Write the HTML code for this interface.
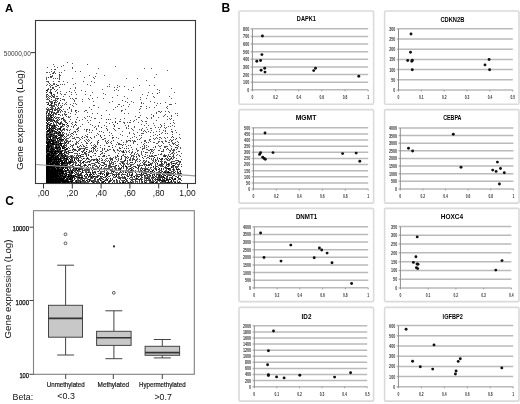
<!DOCTYPE html>
<html><head><meta charset="utf-8"><style>
html,body{margin:0;padding:0;background:#fff;width:520px;height:404px;overflow:hidden}
svg{display:block;font-family:"Liberation Sans",sans-serif;will-change:transform}
</style></head><body>
<svg width="520" height="404" viewBox="0 0 520 404">
<text x="5" y="12" font-size="11.5" font-weight="bold">A</text><text x="221.6" y="12" font-size="12" font-weight="bold">B</text><text x="5.2" y="205" font-size="12" font-weight="bold">C</text><path fill="#555555" d="M67 62h1v1h-1zM72 63h1v1h-1zM53 64h1v1h-1zM87 64h1v1h-1zM63 65h1v1h-1zM54 66h1v1h-1zM61 66h1v1h-1zM115 66h1v1h-1zM47 67h1v1h-1zM57 67h1v1h-1zM72 67h1v1h-1zM72 68h1v1h-1zM98 68h1v1h-1zM144 68h1v1h-1zM151 68h1v1h-1zM51 69h1v1h-1zM54 69h1v1h-1zM64 70h1v1h-1zM167 70h1v1h-1zM51 71h1v1h-1zM54 71h1v1h-1zM75 71h1v1h-1zM80 71h1v1h-1zM46 72h2v1h-2zM49 72h1v1h-1zM53 72h2v1h-2zM59 72h1v1h-1zM61 72h1v1h-1zM52 73h1v1h-1zM55 73h1v1h-1zM96 73h1v1h-1zM50 74h1v1h-1zM156 74h1v1h-1zM52 75h1v1h-1zM59 75h2v1h-2zM89 75h1v1h-1zM104 75h1v1h-1zM51 76h2v1h-2zM59 76h1v1h-1zM95 76h1v1h-1zM46 77h1v1h-1zM50 77h2v1h-2zM59 77h1v1h-1zM84 77h1v1h-1zM93 77h1v1h-1zM154 77h1v1h-1zM46 78h1v1h-1zM53 78h1v1h-1zM55 78h1v1h-1zM57 78h1v1h-1zM59 78h1v1h-1zM72 78h1v1h-1zM94 78h1v1h-1zM126 78h1v1h-1zM137 78h1v1h-1zM46 79h1v1h-1zM59 79h1v1h-1zM146 80h1v1h-1zM46 81h3v1h-3zM53 81h1v1h-1zM58 81h2v1h-2zM63 81h1v1h-1zM83 81h1v1h-1zM91 81h1v1h-1zM48 82h1v1h-1zM67 82h1v1h-1zM94 82h1v1h-1zM49 83h1v1h-1zM53 83h2v1h-2zM75 83h1v1h-1zM47 84h1v1h-1zM50 84h1v1h-1zM53 84h2v1h-2zM60 84h1v1h-1zM62 84h1v1h-1zM64 84h1v1h-1zM73 84h1v1h-1zM87 84h1v1h-1zM109 84h1v1h-1zM46 85h1v1h-1zM49 85h1v1h-1zM51 85h2v1h-2zM90 85h1v1h-1zM117 85h1v1h-1zM139 85h1v1h-1zM149 85h1v1h-1zM154 85h1v1h-1zM50 86h1v1h-1zM55 86h2v1h-2zM107 86h1v1h-1zM109 86h1v1h-1zM119 86h1v1h-1zM124 86h1v1h-1zM50 87h1v1h-1zM53 87h1v1h-1zM59 87h1v1h-1zM75 87h1v1h-1zM114 87h1v1h-1zM117 87h1v1h-1zM133 87h1v1h-1zM48 88h1v1h-1zM52 88h2v1h-2zM70 88h1v1h-1zM75 88h1v1h-1zM171 88h1v1h-1zM47 89h1v1h-1zM50 89h2v1h-2zM54 89h1v1h-1zM57 89h1v1h-1zM102 89h1v1h-1zM116 89h1v1h-1zM128 89h1v1h-1zM157 89h1v1h-1zM50 90h1v1h-1zM56 90h1v1h-1zM74 90h1v1h-1zM81 90h1v1h-1zM114 90h1v1h-1zM118 90h1v1h-1zM131 90h1v1h-1zM159 90h1v1h-1zM47 91h1v1h-1zM50 91h1v1h-1zM55 91h1v1h-1zM60 91h1v1h-1zM85 91h1v1h-1zM49 92h1v1h-1zM66 92h1v1h-1zM71 92h1v1h-1zM75 92h1v1h-1zM92 92h1v1h-1zM148 92h1v1h-1zM159 92h1v1h-1zM174 92h1v1h-1zM50 93h1v1h-1zM57 93h1v1h-1zM60 93h1v1h-1zM103 93h1v1h-1zM152 93h1v1h-1zM46 94h1v1h-1zM51 94h1v1h-1zM54 94h1v1h-1zM61 94h1v1h-1zM64 94h2v1h-2zM71 94h1v1h-1zM76 94h1v1h-1zM85 94h1v1h-1zM105 94h1v1h-1zM142 94h1v1h-1zM46 95h1v1h-1zM48 95h1v1h-1zM51 95h2v1h-2zM54 95h1v1h-1zM90 95h1v1h-1zM117 95h1v1h-1zM147 95h1v1h-1zM46 96h2v1h-2zM49 96h2v1h-2zM52 96h1v1h-1zM54 96h1v1h-1zM56 96h2v1h-2zM63 96h1v1h-1zM69 96h1v1h-1zM124 96h1v1h-1zM153 96h1v1h-1zM169 96h1v1h-1zM46 97h1v1h-1zM48 97h1v1h-1zM53 97h2v1h-2zM97 97h1v1h-1zM112 97h1v1h-1zM140 97h1v1h-1zM154 97h1v1h-1zM47 98h1v1h-1zM49 98h1v1h-1zM55 98h2v1h-2zM60 98h1v1h-1zM70 98h1v1h-1zM72 98h1v1h-1zM75 98h2v1h-2zM88 98h1v1h-1zM92 98h1v1h-1zM103 98h1v1h-1zM127 98h1v1h-1zM146 98h1v1h-1zM171 98h1v1h-1zM46 99h3v1h-3zM51 99h1v1h-1zM55 99h1v1h-1zM57 99h1v1h-1zM62 99h3v1h-3zM73 99h1v1h-1zM82 99h1v1h-1zM89 99h1v1h-1zM140 99h1v1h-1zM53 100h4v1h-4zM64 100h1v1h-1zM74 100h1v1h-1zM122 100h1v1h-1zM49 101h4v1h-4zM55 101h1v1h-1zM57 101h1v1h-1zM74 101h1v1h-1zM82 101h1v1h-1zM93 101h1v1h-1zM112 101h1v1h-1zM125 101h1v1h-1zM131 101h1v1h-1zM150 101h1v1h-1zM46 102h3v1h-3zM50 102h3v1h-3zM55 102h2v1h-2zM59 102h1v1h-1zM66 102h1v1h-1zM109 102h1v1h-1zM127 102h1v1h-1zM133 102h1v1h-1zM141 102h1v1h-1zM154 102h1v1h-1zM165 102h1v1h-1zM52 103h1v1h-1zM58 103h1v1h-1zM62 103h1v1h-1zM65 103h1v1h-1zM73 103h1v1h-1zM75 103h1v1h-1zM141 103h1v1h-1zM143 103h1v1h-1zM157 103h1v1h-1zM160 103h1v1h-1zM175 103h1v1h-1zM50 104h2v1h-2zM54 104h3v1h-3zM58 104h1v1h-1zM64 104h1v1h-1zM66 104h1v1h-1zM70 104h1v1h-1zM76 104h1v1h-1zM118 104h2v1h-2zM129 104h1v1h-1zM169 104h3v1h-3zM50 105h1v1h-1zM52 105h3v1h-3zM56 105h1v1h-1zM58 105h1v1h-1zM60 105h1v1h-1zM62 105h1v1h-1zM72 105h1v1h-1zM93 105h2v1h-2zM123 105h1v1h-1zM156 105h1v1h-1zM51 106h4v1h-4zM57 106h1v1h-1zM61 106h1v1h-1zM73 106h1v1h-1zM117 106h1v1h-1zM121 106h1v1h-1zM128 106h1v1h-1zM140 106h2v1h-2zM146 106h1v1h-1zM167 106h1v1h-1zM47 107h1v1h-1zM50 107h3v1h-3zM55 107h1v1h-1zM60 107h2v1h-2zM89 107h1v1h-1zM98 107h1v1h-1zM115 107h1v1h-1zM149 107h1v1h-1zM154 107h1v1h-1zM166 107h1v1h-1zM46 108h1v1h-1zM48 108h1v1h-1zM51 108h3v1h-3zM57 108h1v1h-1zM59 108h1v1h-1zM69 108h1v1h-1zM140 108h1v1h-1zM146 108h1v1h-1zM167 108h1v1h-1zM46 109h1v1h-1zM48 109h2v1h-2zM54 109h2v1h-2zM57 109h1v1h-1zM59 109h2v1h-2zM63 109h1v1h-1zM67 109h1v1h-1zM71 109h1v1h-1zM91 109h1v1h-1zM113 109h1v1h-1zM125 109h1v1h-1zM139 109h1v1h-1zM48 110h2v1h-2zM57 110h3v1h-3zM71 110h1v1h-1zM76 110h1v1h-1zM85 110h2v1h-2zM106 110h1v1h-1zM121 110h2v1h-2zM46 111h1v1h-1zM50 111h3v1h-3zM57 111h1v1h-1zM60 111h1v1h-1zM62 111h1v1h-1zM64 111h2v1h-2zM71 111h1v1h-1zM75 111h1v1h-1zM78 111h1v1h-1zM84 111h1v1h-1zM121 111h1v1h-1zM158 111h2v1h-2zM161 111h1v1h-1zM165 111h1v1h-1zM168 111h1v1h-1zM46 112h2v1h-2zM49 112h1v1h-1zM52 112h2v1h-2zM56 112h1v1h-1zM58 112h1v1h-1zM60 112h1v1h-1zM65 112h1v1h-1zM68 112h1v1h-1zM76 112h1v1h-1zM87 112h1v1h-1zM139 112h1v1h-1zM156 112h1v1h-1zM160 112h1v1h-1zM169 112h1v1h-1zM49 113h1v1h-1zM53 113h2v1h-2zM56 113h1v1h-1zM64 113h1v1h-1zM70 113h1v1h-1zM92 113h1v1h-1zM97 113h1v1h-1zM124 113h1v1h-1zM128 113h1v1h-1zM156 113h1v1h-1zM175 113h1v1h-1zM177 113h1v1h-1zM46 114h1v1h-1zM48 114h2v1h-2zM52 114h1v1h-1zM55 114h2v1h-2zM59 114h1v1h-1zM62 114h1v1h-1zM64 114h2v1h-2zM75 114h1v1h-1zM109 114h1v1h-1zM151 114h1v1h-1zM165 114h1v1h-1zM46 115h2v1h-2zM49 115h2v1h-2zM52 115h2v1h-2zM60 115h1v1h-1zM62 115h1v1h-1zM65 115h1v1h-1zM140 115h1v1h-1zM164 115h1v1h-1zM171 115h1v1h-1zM177 115h1v1h-1zM51 116h1v1h-1zM53 116h1v1h-1zM55 116h1v1h-1zM66 116h1v1h-1zM68 116h1v1h-1zM70 116h1v1h-1zM87 116h1v1h-1zM89 116h1v1h-1zM135 116h1v1h-1zM153 116h1v1h-1zM163 116h1v1h-1zM167 116h1v1h-1zM171 116h1v1h-1zM48 117h3v1h-3zM56 117h4v1h-4zM63 117h1v1h-1zM68 117h2v1h-2zM84 117h1v1h-1zM91 117h1v1h-1zM138 117h2v1h-2zM146 117h1v1h-1zM151 117h1v1h-1zM158 117h1v1h-1zM47 118h1v1h-1zM50 118h2v1h-2zM53 118h1v1h-1zM55 118h2v1h-2zM58 118h1v1h-1zM61 118h1v1h-1zM63 118h1v1h-1zM85 118h1v1h-1zM94 118h2v1h-2zM101 118h1v1h-1zM115 118h1v1h-1zM124 118h1v1h-1zM147 118h1v1h-1zM151 118h1v1h-1zM169 118h1v1h-1zM171 118h1v1h-1zM47 119h1v1h-1zM52 119h2v1h-2zM61 119h1v1h-1zM64 119h1v1h-1zM70 119h1v1h-1zM76 119h1v1h-1zM82 119h1v1h-1zM106 119h1v1h-1zM110 119h1v1h-1zM120 119h1v1h-1zM136 119h1v1h-1zM167 119h1v1h-1zM170 119h1v1h-1zM50 120h1v1h-1zM52 120h1v1h-1zM57 120h2v1h-2zM63 120h3v1h-3zM79 120h1v1h-1zM87 120h1v1h-1zM90 120h1v1h-1zM130 120h1v1h-1zM134 120h1v1h-1zM141 120h1v1h-1zM156 120h1v1h-1zM173 120h1v1h-1zM51 121h1v1h-1zM55 121h3v1h-3zM61 121h1v1h-1zM64 121h2v1h-2zM69 121h1v1h-1zM75 121h1v1h-1zM115 121h1v1h-1zM119 121h2v1h-2zM133 121h1v1h-1zM142 121h1v1h-1zM145 121h2v1h-2zM48 122h2v1h-2zM53 122h1v1h-1zM55 122h2v1h-2zM58 122h1v1h-1zM61 122h1v1h-1zM65 122h1v1h-1zM72 122h1v1h-1zM75 122h2v1h-2zM88 122h1v1h-1zM106 122h1v1h-1zM112 122h1v1h-1zM123 122h2v1h-2zM127 122h1v1h-1zM129 122h2v1h-2zM138 122h1v1h-1zM173 122h1v1h-1zM46 123h1v1h-1zM48 123h1v1h-1zM50 123h1v1h-1zM56 123h1v1h-1zM59 123h1v1h-1zM61 123h2v1h-2zM71 123h1v1h-1zM109 123h1v1h-1zM124 123h1v1h-1zM146 123h1v1h-1zM153 123h1v1h-1zM164 123h1v1h-1zM170 123h1v1h-1zM174 123h1v1h-1zM53 124h1v1h-1zM56 124h1v1h-1zM60 124h1v1h-1zM62 124h1v1h-1zM66 124h1v1h-1zM72 124h1v1h-1zM82 124h1v1h-1zM90 124h1v1h-1zM113 124h1v1h-1zM141 124h1v1h-1zM160 124h1v1h-1zM55 125h2v1h-2zM64 125h1v1h-1zM68 125h1v1h-1zM74 125h1v1h-1zM76 125h1v1h-1zM92 125h1v1h-1zM98 125h1v1h-1zM104 125h1v1h-1zM114 125h1v1h-1zM125 125h1v1h-1zM128 125h1v1h-1zM144 125h1v1h-1zM148 125h1v1h-1zM154 125h1v1h-1zM161 125h1v1h-1zM164 125h1v1h-1zM172 125h1v1h-1zM46 126h4v1h-4zM51 126h1v1h-1zM53 126h1v1h-1zM60 126h1v1h-1zM62 126h2v1h-2zM66 126h1v1h-1zM68 126h1v1h-1zM71 126h1v1h-1zM73 126h1v1h-1zM80 126h1v1h-1zM95 126h1v1h-1zM98 126h1v1h-1zM106 126h1v1h-1zM128 126h1v1h-1zM134 126h1v1h-1zM161 126h1v1h-1zM168 126h1v1h-1zM170 126h1v1h-1zM174 126h1v1h-1zM46 127h1v1h-1zM52 127h1v1h-1zM54 127h3v1h-3zM67 127h1v1h-1zM73 127h1v1h-1zM78 127h1v1h-1zM94 127h1v1h-1zM126 127h1v1h-1zM134 127h1v1h-1zM146 127h1v1h-1zM155 127h1v1h-1zM158 127h1v1h-1zM160 127h1v1h-1zM164 127h1v1h-1zM166 127h1v1h-1zM46 128h1v1h-1zM48 128h1v1h-1zM51 128h1v1h-1zM55 128h1v1h-1zM57 128h2v1h-2zM63 128h2v1h-2zM77 128h2v1h-2zM96 128h1v1h-1zM113 128h1v1h-1zM118 128h2v1h-2zM126 128h1v1h-1zM128 128h1v1h-1zM131 128h1v1h-1zM142 128h1v1h-1zM150 128h2v1h-2zM165 128h1v1h-1zM48 129h1v1h-1zM50 129h1v1h-1zM52 129h2v1h-2zM56 129h3v1h-3zM62 129h1v1h-1zM64 129h1v1h-1zM67 129h1v1h-1zM70 129h1v1h-1zM76 129h2v1h-2zM84 129h1v1h-1zM86 129h2v1h-2zM89 129h1v1h-1zM96 129h1v1h-1zM107 129h1v1h-1zM114 129h1v1h-1zM132 129h1v1h-1zM139 129h1v1h-1zM141 129h1v1h-1zM147 129h1v1h-1zM159 129h1v1h-1zM171 129h1v1h-1zM50 130h1v1h-1zM54 130h1v1h-1zM60 130h3v1h-3zM64 130h1v1h-1zM67 130h1v1h-1zM78 130h1v1h-1zM86 130h1v1h-1zM89 130h1v1h-1zM92 130h1v1h-1zM107 130h1v1h-1zM115 130h1v1h-1zM133 130h1v1h-1zM141 130h1v1h-1zM144 130h1v1h-1zM151 130h1v1h-1zM163 130h1v1h-1zM165 130h1v1h-1zM175 130h1v1h-1zM49 131h1v1h-1zM53 131h1v1h-1zM58 131h1v1h-1zM74 131h2v1h-2zM77 131h1v1h-1zM86 131h1v1h-1zM99 131h1v1h-1zM101 131h1v1h-1zM122 131h1v1h-1zM143 131h1v1h-1zM145 131h1v1h-1zM148 131h1v1h-1zM156 131h1v1h-1zM159 131h1v1h-1zM165 131h1v1h-1zM171 131h2v1h-2zM46 132h2v1h-2zM51 132h2v1h-2zM54 132h2v1h-2zM58 132h1v1h-1zM63 132h1v1h-1zM69 132h1v1h-1zM73 132h1v1h-1zM75 132h1v1h-1zM89 132h1v1h-1zM91 132h1v1h-1zM103 132h1v1h-1zM109 132h1v1h-1zM129 132h1v1h-1zM137 132h1v1h-1zM146 132h1v1h-1zM150 132h1v1h-1zM153 132h1v1h-1zM162 132h1v1h-1zM172 132h1v1h-1zM176 132h1v1h-1zM46 133h2v1h-2zM50 133h4v1h-4zM55 133h1v1h-1zM57 133h1v1h-1zM59 133h1v1h-1zM62 133h1v1h-1zM64 133h1v1h-1zM66 133h1v1h-1zM71 133h1v1h-1zM97 133h1v1h-1zM111 133h1v1h-1zM129 133h1v1h-1zM133 133h1v1h-1zM141 133h3v1h-3zM161 133h1v1h-1zM165 133h1v1h-1zM167 133h1v1h-1zM49 134h1v1h-1zM53 134h2v1h-2zM57 134h3v1h-3zM61 134h2v1h-2zM66 134h1v1h-1zM68 134h1v1h-1zM70 134h1v1h-1zM73 134h1v1h-1zM87 134h1v1h-1zM98 134h1v1h-1zM120 134h1v1h-1zM134 134h1v1h-1zM155 134h1v1h-1zM172 134h1v1h-1zM179 134h1v1h-1zM47 135h2v1h-2zM52 135h1v1h-1zM55 135h1v1h-1zM67 135h2v1h-2zM71 135h1v1h-1zM85 135h1v1h-1zM96 135h1v1h-1zM104 135h1v1h-1zM109 135h1v1h-1zM112 135h1v1h-1zM122 135h1v1h-1zM139 135h1v1h-1zM141 135h1v1h-1zM153 135h1v1h-1zM157 135h1v1h-1zM47 136h1v1h-1zM53 136h2v1h-2zM57 136h1v1h-1zM61 136h1v1h-1zM70 136h1v1h-1zM72 136h1v1h-1zM86 136h2v1h-2zM94 136h1v1h-1zM100 136h1v1h-1zM127 136h1v1h-1zM134 136h1v1h-1zM150 136h1v1h-1zM48 137h1v1h-1zM52 137h1v1h-1zM58 137h1v1h-1zM61 137h1v1h-1zM63 137h1v1h-1zM65 137h1v1h-1zM69 137h1v1h-1zM74 137h1v1h-1zM76 137h3v1h-3zM81 137h1v1h-1zM87 137h1v1h-1zM94 137h1v1h-1zM112 137h1v1h-1zM116 137h1v1h-1zM132 137h1v1h-1zM136 137h1v1h-1zM141 137h1v1h-1zM156 137h1v1h-1zM159 137h2v1h-2zM164 137h1v1h-1zM167 137h1v1h-1zM171 137h1v1h-1zM173 137h1v1h-1zM179 137h1v1h-1zM46 138h1v1h-1zM48 138h1v1h-1zM54 138h2v1h-2zM59 138h3v1h-3zM66 138h3v1h-3zM72 138h3v1h-3zM79 138h1v1h-1zM82 138h1v1h-1zM91 138h1v1h-1zM104 138h2v1h-2zM112 138h1v1h-1zM118 138h1v1h-1zM130 138h1v1h-1zM140 138h1v1h-1zM153 138h1v1h-1zM155 138h1v1h-1zM157 138h1v1h-1zM161 138h1v1h-1zM165 138h1v1h-1zM180 138h1v1h-1zM52 139h1v1h-1zM54 139h1v1h-1zM65 139h2v1h-2zM75 139h1v1h-1zM80 139h1v1h-1zM86 139h1v1h-1zM88 139h1v1h-1zM102 139h2v1h-2zM137 139h1v1h-1zM139 139h1v1h-1zM149 139h2v1h-2zM154 139h1v1h-1zM159 139h1v1h-1zM170 139h1v1h-1zM173 139h1v1h-1zM175 139h1v1h-1zM46 140h1v1h-1zM48 140h1v1h-1zM50 140h1v1h-1zM59 140h2v1h-2zM62 140h2v1h-2zM65 140h3v1h-3zM70 140h1v1h-1zM79 140h1v1h-1zM84 140h1v1h-1zM87 140h1v1h-1zM89 140h1v1h-1zM105 140h1v1h-1zM108 140h1v1h-1zM121 140h1v1h-1zM126 140h1v1h-1zM128 140h3v1h-3zM132 140h1v1h-1zM134 140h1v1h-1zM144 140h2v1h-2zM149 140h1v1h-1zM165 140h1v1h-1zM169 140h1v1h-1zM171 140h2v1h-2zM47 141h1v1h-1zM54 141h2v1h-2zM57 141h1v1h-1zM59 141h4v1h-4zM67 141h4v1h-4zM72 141h1v1h-1zM76 141h1v1h-1zM78 141h1v1h-1zM85 141h1v1h-1zM88 141h1v1h-1zM97 141h1v1h-1zM105 141h1v1h-1zM107 141h1v1h-1zM111 141h1v1h-1zM126 141h2v1h-2zM130 141h1v1h-1zM133 141h2v1h-2zM144 141h2v1h-2zM150 141h1v1h-1zM158 141h2v1h-2zM161 141h2v1h-2zM165 141h2v1h-2zM171 141h1v1h-1zM177 141h1v1h-1zM57 142h1v1h-1zM64 142h1v1h-1zM76 142h2v1h-2zM81 142h1v1h-1zM86 142h1v1h-1zM97 142h2v1h-2zM106 142h1v1h-1zM108 142h1v1h-1zM110 142h1v1h-1zM117 142h1v1h-1zM123 142h1v1h-1zM126 142h1v1h-1zM133 142h1v1h-1zM141 142h1v1h-1zM146 142h1v1h-1zM148 142h1v1h-1zM153 142h2v1h-2zM158 142h1v1h-1zM162 142h1v1h-1zM168 142h2v1h-2zM172 142h1v1h-1zM175 142h1v1h-1zM178 142h1v1h-1zM55 143h1v1h-1zM57 143h2v1h-2zM63 143h2v1h-2zM67 143h2v1h-2zM75 143h2v1h-2zM78 143h1v1h-1zM86 143h1v1h-1zM90 143h1v1h-1zM97 143h1v1h-1zM106 143h2v1h-2zM118 143h2v1h-2zM133 143h1v1h-1zM144 143h1v1h-1zM156 143h2v1h-2zM163 143h1v1h-1zM172 143h3v1h-3zM59 144h1v1h-1zM66 144h1v1h-1zM70 144h1v1h-1zM73 144h1v1h-1zM75 144h2v1h-2zM82 144h1v1h-1zM94 144h1v1h-1zM97 144h1v1h-1zM116 144h1v1h-1zM118 144h4v1h-4zM123 144h1v1h-1zM125 144h1v1h-1zM137 144h1v1h-1zM143 144h1v1h-1zM169 144h1v1h-1zM173 144h1v1h-1zM175 144h1v1h-1zM178 144h1v1h-1zM53 145h1v1h-1zM57 145h1v1h-1zM59 145h1v1h-1zM64 145h1v1h-1zM66 145h1v1h-1zM71 145h3v1h-3zM83 145h1v1h-1zM86 145h1v1h-1zM91 145h1v1h-1zM93 145h1v1h-1zM95 145h1v1h-1zM100 145h1v1h-1zM104 145h1v1h-1zM112 145h1v1h-1zM128 145h1v1h-1zM130 145h1v1h-1zM144 145h1v1h-1zM146 145h1v1h-1zM158 145h1v1h-1zM161 145h1v1h-1zM170 145h1v1h-1zM176 145h1v1h-1zM57 146h2v1h-2zM64 146h1v1h-1zM66 146h1v1h-1zM72 146h1v1h-1zM79 146h1v1h-1zM81 146h1v1h-1zM83 146h2v1h-2zM94 146h3v1h-3zM108 146h1v1h-1zM115 146h1v1h-1zM126 146h1v1h-1zM142 146h1v1h-1zM144 146h1v1h-1zM148 146h1v1h-1zM159 146h2v1h-2zM164 146h4v1h-4zM171 146h1v1h-1zM178 146h1v1h-1zM50 147h1v1h-1zM54 147h1v1h-1zM63 147h1v1h-1zM72 147h1v1h-1zM77 147h2v1h-2zM85 147h3v1h-3zM92 147h1v1h-1zM95 147h1v1h-1zM100 147h1v1h-1zM119 147h1v1h-1zM122 147h1v1h-1zM131 147h1v1h-1zM140 147h1v1h-1zM144 147h1v1h-1zM146 147h1v1h-1zM153 147h1v1h-1zM155 147h1v1h-1zM164 147h2v1h-2zM176 147h2v1h-2zM180 147h1v1h-1zM49 148h1v1h-1zM54 148h1v1h-1zM59 148h1v1h-1zM64 148h1v1h-1zM69 148h1v1h-1zM73 148h1v1h-1zM79 148h7v1h-7zM93 148h1v1h-1zM97 148h1v1h-1zM102 148h1v1h-1zM119 148h1v1h-1zM124 148h1v1h-1zM128 148h1v1h-1zM136 148h1v1h-1zM142 148h3v1h-3zM160 148h1v1h-1zM171 148h1v1h-1zM177 148h1v1h-1zM180 148h1v1h-1zM49 149h1v1h-1zM56 149h1v1h-1zM58 149h1v1h-1zM64 149h1v1h-1zM67 149h1v1h-1zM72 149h1v1h-1zM78 149h3v1h-3zM87 149h1v1h-1zM93 149h1v1h-1zM95 149h1v1h-1zM102 149h1v1h-1zM104 149h1v1h-1zM107 149h1v1h-1zM109 149h2v1h-2zM117 149h1v1h-1zM132 149h1v1h-1zM136 149h1v1h-1zM142 149h1v1h-1zM146 149h2v1h-2zM151 149h2v1h-2zM154 149h1v1h-1zM166 149h1v1h-1zM168 149h1v1h-1zM171 149h1v1h-1zM173 149h2v1h-2zM176 149h1v1h-1zM49 150h1v1h-1zM54 150h1v1h-1zM56 150h1v1h-1zM60 150h2v1h-2zM63 150h2v1h-2zM68 150h3v1h-3zM72 150h1v1h-1zM74 150h3v1h-3zM78 150h2v1h-2zM84 150h1v1h-1zM89 150h1v1h-1zM91 150h1v1h-1zM93 150h1v1h-1zM95 150h1v1h-1zM97 150h1v1h-1zM102 150h1v1h-1zM107 150h2v1h-2zM113 150h2v1h-2zM117 150h2v1h-2zM120 150h1v1h-1zM123 150h1v1h-1zM125 150h1v1h-1zM129 150h1v1h-1zM137 150h2v1h-2zM148 150h2v1h-2zM151 150h1v1h-1zM153 150h1v1h-1zM158 150h2v1h-2zM163 150h1v1h-1zM169 150h2v1h-2zM172 150h3v1h-3zM62 151h1v1h-1zM64 151h4v1h-4zM73 151h1v1h-1zM81 151h3v1h-3zM89 151h2v1h-2zM93 151h1v1h-1zM96 151h1v1h-1zM100 151h2v1h-2zM105 151h2v1h-2zM114 151h1v1h-1zM119 151h1v1h-1zM121 151h2v1h-2zM126 151h1v1h-1zM128 151h1v1h-1zM132 151h1v1h-1zM137 151h1v1h-1zM141 151h1v1h-1zM143 151h1v1h-1zM151 151h2v1h-2zM162 151h2v1h-2zM170 151h1v1h-1zM173 151h1v1h-1zM178 151h2v1h-2zM47 152h2v1h-2zM53 152h1v1h-1zM56 152h2v1h-2zM59 152h1v1h-1zM65 152h1v1h-1zM68 152h1v1h-1zM70 152h1v1h-1zM85 152h1v1h-1zM88 152h2v1h-2zM92 152h1v1h-1zM102 152h1v1h-1zM115 152h1v1h-1zM122 152h1v1h-1zM124 152h1v1h-1zM126 152h1v1h-1zM129 152h1v1h-1zM131 152h2v1h-2zM135 152h1v1h-1zM141 152h1v1h-1zM146 152h2v1h-2zM150 152h1v1h-1zM153 152h1v1h-1zM169 152h1v1h-1zM172 152h2v1h-2zM176 152h1v1h-1zM46 153h1v1h-1zM50 153h1v1h-1zM62 153h1v1h-1zM64 153h1v1h-1zM66 153h3v1h-3zM74 153h4v1h-4zM84 153h1v1h-1zM86 153h1v1h-1zM94 153h1v1h-1zM101 153h2v1h-2zM104 153h1v1h-1zM118 153h1v1h-1zM131 153h1v1h-1zM134 153h1v1h-1zM137 153h1v1h-1zM141 153h1v1h-1zM150 153h1v1h-1zM152 153h1v1h-1zM161 153h1v1h-1zM171 153h2v1h-2zM174 153h1v1h-1zM181 153h1v1h-1zM56 154h1v1h-1zM60 154h1v1h-1zM65 154h1v1h-1zM68 154h1v1h-1zM77 154h1v1h-1zM81 154h2v1h-2zM85 154h2v1h-2zM123 154h1v1h-1zM125 154h1v1h-1zM130 154h1v1h-1zM134 154h1v1h-1zM136 154h1v1h-1zM138 154h1v1h-1zM141 154h1v1h-1zM145 154h1v1h-1zM158 154h1v1h-1zM161 154h1v1h-1zM164 154h1v1h-1zM168 154h1v1h-1zM170 154h1v1h-1zM173 154h1v1h-1zM177 154h1v1h-1zM56 155h1v1h-1zM59 155h2v1h-2zM64 155h1v1h-1zM66 155h2v1h-2zM70 155h3v1h-3zM74 155h1v1h-1zM76 155h4v1h-4zM93 155h1v1h-1zM95 155h1v1h-1zM103 155h1v1h-1zM108 155h2v1h-2zM122 155h2v1h-2zM131 155h3v1h-3zM138 155h2v1h-2zM142 155h1v1h-1zM147 155h1v1h-1zM149 155h1v1h-1zM151 155h2v1h-2zM154 155h1v1h-1zM156 155h1v1h-1zM163 155h1v1h-1zM165 155h2v1h-2zM168 155h1v1h-1zM176 155h1v1h-1zM179 155h1v1h-1zM49 156h1v1h-1zM54 156h1v1h-1zM58 156h3v1h-3zM63 156h1v1h-1zM67 156h4v1h-4zM72 156h2v1h-2zM76 156h1v1h-1zM80 156h2v1h-2zM83 156h1v1h-1zM86 156h1v1h-1zM91 156h1v1h-1zM98 156h2v1h-2zM102 156h3v1h-3zM106 156h1v1h-1zM115 156h1v1h-1zM117 156h2v1h-2zM124 156h2v1h-2zM127 156h1v1h-1zM133 156h2v1h-2zM144 156h2v1h-2zM149 156h5v1h-5zM163 156h1v1h-1zM167 156h1v1h-1zM170 156h1v1h-1zM172 156h2v1h-2zM180 156h1v1h-1zM61 157h2v1h-2zM66 157h1v1h-1zM68 157h1v1h-1zM70 157h1v1h-1zM72 157h5v1h-5zM80 157h1v1h-1zM87 157h1v1h-1zM91 157h1v1h-1zM110 157h1v1h-1zM113 157h1v1h-1zM115 157h2v1h-2zM121 157h1v1h-1zM125 157h1v1h-1zM130 157h1v1h-1zM133 157h1v1h-1zM136 157h1v1h-1zM147 157h2v1h-2zM157 157h1v1h-1zM167 157h1v1h-1zM171 157h1v1h-1zM173 157h2v1h-2zM63 158h1v1h-1zM75 158h3v1h-3zM81 158h1v1h-1zM84 158h1v1h-1zM86 158h1v1h-1zM88 158h1v1h-1zM96 158h1v1h-1zM99 158h1v1h-1zM101 158h1v1h-1zM106 158h2v1h-2zM109 158h4v1h-4zM115 158h1v1h-1zM118 158h1v1h-1zM125 158h1v1h-1zM127 158h1v1h-1zM130 158h1v1h-1zM132 158h2v1h-2zM137 158h1v1h-1zM143 158h1v1h-1zM146 158h1v1h-1zM151 158h1v1h-1zM153 158h1v1h-1zM157 158h1v1h-1zM161 158h1v1h-1zM165 158h2v1h-2zM170 158h1v1h-1zM173 158h1v1h-1zM176 158h1v1h-1zM61 159h1v1h-1zM65 159h1v1h-1zM68 159h1v1h-1zM71 159h2v1h-2zM82 159h1v1h-1zM86 159h1v1h-1zM88 159h2v1h-2zM91 159h3v1h-3zM95 159h2v1h-2zM99 159h1v1h-1zM102 159h1v1h-1zM105 159h1v1h-1zM111 159h1v1h-1zM116 159h1v1h-1zM118 159h1v1h-1zM120 159h2v1h-2zM129 159h2v1h-2zM132 159h2v1h-2zM136 159h2v1h-2zM139 159h1v1h-1zM151 159h1v1h-1zM153 159h1v1h-1zM157 159h1v1h-1zM162 159h1v1h-1zM164 159h1v1h-1zM166 159h1v1h-1zM170 159h1v1h-1zM172 159h1v1h-1zM181 159h1v1h-1zM57 160h1v1h-1zM59 160h1v1h-1zM64 160h1v1h-1zM70 160h2v1h-2zM77 160h1v1h-1zM79 160h3v1h-3zM85 160h1v1h-1zM90 160h2v1h-2zM94 160h1v1h-1zM96 160h3v1h-3zM101 160h2v1h-2zM104 160h1v1h-1zM106 160h1v1h-1zM108 160h1v1h-1zM110 160h1v1h-1zM112 160h1v1h-1zM118 160h1v1h-1zM129 160h2v1h-2zM135 160h2v1h-2zM140 160h1v1h-1zM143 160h2v1h-2zM146 160h1v1h-1zM152 160h2v1h-2zM155 160h2v1h-2zM158 160h1v1h-1zM161 160h1v1h-1zM167 160h3v1h-3zM175 160h2v1h-2zM178 160h1v1h-1zM68 161h1v1h-1zM72 161h2v1h-2zM87 161h1v1h-1zM90 161h1v1h-1zM105 161h1v1h-1zM107 161h1v1h-1zM111 161h1v1h-1zM114 161h2v1h-2zM117 161h1v1h-1zM120 161h5v1h-5zM127 161h1v1h-1zM135 161h1v1h-1zM137 161h1v1h-1zM143 161h1v1h-1zM145 161h2v1h-2zM148 161h1v1h-1zM153 161h1v1h-1zM161 161h2v1h-2zM164 161h2v1h-2zM171 161h4v1h-4zM179 161h1v1h-1zM51 162h1v1h-1zM65 162h1v1h-1zM73 162h4v1h-4zM79 162h2v1h-2zM85 162h3v1h-3zM95 162h1v1h-1zM97 162h2v1h-2zM101 162h1v1h-1zM103 162h2v1h-2zM109 162h1v1h-1zM111 162h3v1h-3zM121 162h1v1h-1zM123 162h1v1h-1zM127 162h1v1h-1zM131 162h1v1h-1zM142 162h1v1h-1zM145 162h1v1h-1zM149 162h1v1h-1zM152 162h1v1h-1zM154 162h1v1h-1zM156 162h1v1h-1zM165 162h1v1h-1zM170 162h1v1h-1zM176 162h2v1h-2zM179 162h2v1h-2zM49 163h1v1h-1zM59 163h2v1h-2zM73 163h1v1h-1zM75 163h2v1h-2zM80 163h2v1h-2zM83 163h1v1h-1zM91 163h4v1h-4zM99 163h1v1h-1zM103 163h1v1h-1zM109 163h3v1h-3zM113 163h1v1h-1zM115 163h1v1h-1zM119 163h2v1h-2zM123 163h2v1h-2zM126 163h2v1h-2zM129 163h1v1h-1zM134 163h1v1h-1zM140 163h1v1h-1zM143 163h2v1h-2zM151 163h2v1h-2zM155 163h1v1h-1zM162 163h1v1h-1zM164 163h1v1h-1zM166 163h1v1h-1zM169 163h1v1h-1zM171 163h2v1h-2zM174 163h2v1h-2zM179 163h1v1h-1zM54 164h1v1h-1zM63 164h4v1h-4zM73 164h1v1h-1zM75 164h1v1h-1zM84 164h1v1h-1zM88 164h1v1h-1zM90 164h1v1h-1zM94 164h2v1h-2zM100 164h1v1h-1zM104 164h1v1h-1zM106 164h1v1h-1zM109 164h2v1h-2zM112 164h2v1h-2zM120 164h1v1h-1zM123 164h2v1h-2zM127 164h2v1h-2zM130 164h4v1h-4zM137 164h1v1h-1zM139 164h1v1h-1zM143 164h1v1h-1zM145 164h1v1h-1zM151 164h1v1h-1zM155 164h1v1h-1zM157 164h1v1h-1zM159 164h1v1h-1zM162 164h2v1h-2zM166 164h1v1h-1zM169 164h1v1h-1zM171 164h1v1h-1zM175 164h1v1h-1zM177 164h3v1h-3zM181 164h1v1h-1zM67 165h1v1h-1zM70 165h3v1h-3zM76 165h1v1h-1zM78 165h1v1h-1zM83 165h1v1h-1zM86 165h1v1h-1zM88 165h1v1h-1zM90 165h1v1h-1zM92 165h3v1h-3zM96 165h1v1h-1zM99 165h1v1h-1zM101 165h1v1h-1zM106 165h1v1h-1zM108 165h1v1h-1zM110 165h1v1h-1zM115 165h1v1h-1zM118 165h1v1h-1zM125 165h1v1h-1zM130 165h2v1h-2zM138 165h4v1h-4zM144 165h1v1h-1zM147 165h1v1h-1zM155 165h1v1h-1zM158 165h1v1h-1zM160 165h1v1h-1zM162 165h1v1h-1zM168 165h2v1h-2zM178 165h1v1h-1zM59 166h1v1h-1zM62 166h1v1h-1zM64 166h1v1h-1zM70 166h1v1h-1zM80 166h3v1h-3zM84 166h1v1h-1zM92 166h1v1h-1zM95 166h3v1h-3zM106 166h1v1h-1zM108 166h3v1h-3zM112 166h1v1h-1zM114 166h2v1h-2zM118 166h1v1h-1zM128 166h2v1h-2zM133 166h2v1h-2zM138 166h2v1h-2zM145 166h1v1h-1zM155 166h1v1h-1zM157 166h1v1h-1zM160 166h4v1h-4zM165 166h1v1h-1zM167 166h1v1h-1zM172 166h1v1h-1zM176 166h3v1h-3zM55 167h1v1h-1zM60 167h1v1h-1zM64 167h1v1h-1zM68 167h1v1h-1zM71 167h2v1h-2zM75 167h1v1h-1zM77 167h2v1h-2zM80 167h1v1h-1zM86 167h1v1h-1zM90 167h1v1h-1zM92 167h2v1h-2zM97 167h1v1h-1zM104 167h1v1h-1zM108 167h4v1h-4zM114 167h2v1h-2zM119 167h1v1h-1zM123 167h1v1h-1zM127 167h1v1h-1zM131 167h2v1h-2zM135 167h1v1h-1zM145 167h1v1h-1zM148 167h1v1h-1zM150 167h2v1h-2zM153 167h1v1h-1zM158 167h1v1h-1zM164 167h1v1h-1zM172 167h2v1h-2zM175 167h3v1h-3zM56 168h1v1h-1zM59 168h1v1h-1zM66 168h1v1h-1zM69 168h2v1h-2zM74 168h1v1h-1zM78 168h1v1h-1zM83 168h1v1h-1zM86 168h1v1h-1zM91 168h1v1h-1zM93 168h1v1h-1zM97 168h2v1h-2zM101 168h1v1h-1zM103 168h7v1h-7zM112 168h1v1h-1zM114 168h3v1h-3zM119 168h1v1h-1zM121 168h1v1h-1zM123 168h1v1h-1zM126 168h2v1h-2zM129 168h1v1h-1zM131 168h1v1h-1zM137 168h2v1h-2zM140 168h8v1h-8zM150 168h1v1h-1zM154 168h1v1h-1zM156 168h1v1h-1zM163 168h1v1h-1zM165 168h2v1h-2zM170 168h1v1h-1zM178 168h1v1h-1zM73 169h3v1h-3zM81 169h1v1h-1zM84 169h4v1h-4zM89 169h1v1h-1zM91 169h1v1h-1zM93 169h1v1h-1zM95 169h2v1h-2zM101 169h1v1h-1zM104 169h1v1h-1zM106 169h4v1h-4zM111 169h2v1h-2zM116 169h1v1h-1zM118 169h2v1h-2zM126 169h1v1h-1zM128 169h2v1h-2zM132 169h1v1h-1zM138 169h1v1h-1zM140 169h1v1h-1zM144 169h1v1h-1zM146 169h1v1h-1zM148 169h2v1h-2zM151 169h1v1h-1zM153 169h1v1h-1zM159 169h1v1h-1zM163 169h1v1h-1zM166 169h1v1h-1zM169 169h2v1h-2zM172 169h1v1h-1zM174 169h1v1h-1zM63 170h2v1h-2zM69 170h1v1h-1zM74 170h1v1h-1zM76 170h1v1h-1zM78 170h2v1h-2zM83 170h7v1h-7zM99 170h1v1h-1zM104 170h1v1h-1zM106 170h1v1h-1zM112 170h1v1h-1zM114 170h1v1h-1zM116 170h2v1h-2zM119 170h1v1h-1zM121 170h1v1h-1zM125 170h4v1h-4zM132 170h2v1h-2zM135 170h1v1h-1zM138 170h1v1h-1zM140 170h1v1h-1zM143 170h1v1h-1zM145 170h1v1h-1zM148 170h2v1h-2zM159 170h3v1h-3zM165 170h2v1h-2zM169 170h1v1h-1zM174 170h1v1h-1zM177 170h1v1h-1zM180 170h1v1h-1zM68 171h1v1h-1zM70 171h1v1h-1zM75 171h1v1h-1zM77 171h3v1h-3zM85 171h2v1h-2zM88 171h2v1h-2zM92 171h1v1h-1zM94 171h2v1h-2zM97 171h1v1h-1zM100 171h5v1h-5zM107 171h1v1h-1zM111 171h1v1h-1zM114 171h1v1h-1zM122 171h2v1h-2zM125 171h1v1h-1zM127 171h4v1h-4zM134 171h2v1h-2zM137 171h1v1h-1zM140 171h2v1h-2zM144 171h1v1h-1zM146 171h2v1h-2zM151 171h1v1h-1zM158 171h1v1h-1zM161 171h1v1h-1zM166 171h2v1h-2zM172 171h2v1h-2zM175 171h1v1h-1zM179 171h1v1h-1zM65 172h3v1h-3zM70 172h1v1h-1zM73 172h1v1h-1zM75 172h1v1h-1zM78 172h1v1h-1zM81 172h1v1h-1zM83 172h1v1h-1zM85 172h3v1h-3zM89 172h1v1h-1zM100 172h2v1h-2zM104 172h1v1h-1zM106 172h3v1h-3zM111 172h1v1h-1zM115 172h3v1h-3zM119 172h3v1h-3zM123 172h1v1h-1zM126 172h1v1h-1zM128 172h5v1h-5zM141 172h1v1h-1zM145 172h2v1h-2zM148 172h1v1h-1zM151 172h2v1h-2zM156 172h1v1h-1zM158 172h2v1h-2zM161 172h1v1h-1zM166 172h1v1h-1zM170 172h2v1h-2zM173 172h1v1h-1zM180 172h1v1h-1zM64 173h1v1h-1zM74 173h1v1h-1zM76 173h2v1h-2zM92 173h2v1h-2zM95 173h1v1h-1zM98 173h2v1h-2zM101 173h3v1h-3zM107 173h1v1h-1zM109 173h4v1h-4zM116 173h1v1h-1zM119 173h1v1h-1zM122 173h1v1h-1zM129 173h1v1h-1zM136 173h1v1h-1zM143 173h2v1h-2zM151 173h1v1h-1zM154 173h1v1h-1zM156 173h1v1h-1zM158 173h1v1h-1zM161 173h2v1h-2zM167 173h5v1h-5zM175 173h1v1h-1zM177 173h3v1h-3zM181 173h1v1h-1zM61 174h1v1h-1zM63 174h1v1h-1zM65 174h1v1h-1zM67 174h1v1h-1zM76 174h1v1h-1zM78 174h1v1h-1zM81 174h1v1h-1zM85 174h2v1h-2zM94 174h1v1h-1zM96 174h1v1h-1zM108 174h1v1h-1zM112 174h1v1h-1zM114 174h4v1h-4zM119 174h1v1h-1zM121 174h2v1h-2zM124 174h2v1h-2zM136 174h3v1h-3zM140 174h1v1h-1zM142 174h1v1h-1zM146 174h3v1h-3zM152 174h2v1h-2zM156 174h1v1h-1zM158 174h1v1h-1zM160 174h1v1h-1zM163 174h2v1h-2zM166 174h1v1h-1zM171 174h1v1h-1zM175 174h2v1h-2zM178 174h1v1h-1zM63 175h2v1h-2zM75 175h1v1h-1zM77 175h1v1h-1zM82 175h1v1h-1zM97 175h1v1h-1zM99 175h1v1h-1zM104 175h1v1h-1zM110 175h1v1h-1zM112 175h1v1h-1zM118 175h1v1h-1zM126 175h2v1h-2zM129 175h2v1h-2zM132 175h1v1h-1zM135 175h3v1h-3zM142 175h1v1h-1zM145 175h2v1h-2zM149 175h1v1h-1zM156 175h1v1h-1zM160 175h1v1h-1zM163 175h2v1h-2zM167 175h2v1h-2zM171 175h1v1h-1zM174 175h1v1h-1zM178 175h3v1h-3zM66 176h1v1h-1zM74 176h1v1h-1zM77 176h3v1h-3zM81 176h2v1h-2zM84 176h2v1h-2zM90 176h1v1h-1zM92 176h1v1h-1zM95 176h1v1h-1zM98 176h1v1h-1zM101 176h1v1h-1zM108 176h1v1h-1zM113 176h1v1h-1zM115 176h1v1h-1zM118 176h2v1h-2zM122 176h1v1h-1zM131 176h1v1h-1zM133 176h1v1h-1zM144 176h2v1h-2zM147 176h4v1h-4zM152 176h2v1h-2zM156 176h1v1h-1zM160 176h1v1h-1zM166 176h1v1h-1zM175 176h2v1h-2zM181 176h1v1h-1zM62 177h1v1h-1zM66 177h2v1h-2zM69 177h1v1h-1zM76 177h1v1h-1zM85 177h2v1h-2zM90 177h1v1h-1zM92 177h2v1h-2zM95 177h2v1h-2zM100 177h2v1h-2zM104 177h2v1h-2zM107 177h1v1h-1zM113 177h3v1h-3zM117 177h7v1h-7zM131 177h2v1h-2zM134 177h1v1h-1zM136 177h1v1h-1zM138 177h1v1h-1zM141 177h1v1h-1zM144 177h6v1h-6zM151 177h1v1h-1zM156 177h2v1h-2zM162 177h1v1h-1zM166 177h2v1h-2zM169 177h2v1h-2zM172 177h1v1h-1zM178 177h1v1h-1zM68 178h1v1h-1zM75 178h1v1h-1zM77 178h2v1h-2zM80 178h1v1h-1zM82 178h1v1h-1zM84 178h4v1h-4zM90 178h3v1h-3zM95 178h1v1h-1zM100 178h1v1h-1zM102 178h1v1h-1zM108 178h1v1h-1zM112 178h1v1h-1zM118 178h1v1h-1zM122 178h3v1h-3zM127 178h1v1h-1zM132 178h1v1h-1zM135 178h1v1h-1zM141 178h1v1h-1zM144 178h2v1h-2zM148 178h1v1h-1zM151 178h3v1h-3zM157 178h4v1h-4zM165 178h1v1h-1zM167 178h1v1h-1zM169 178h1v1h-1zM171 178h1v1h-1zM178 178h1v1h-1zM180 178h1v1h-1zM64 179h1v1h-1zM77 179h2v1h-2zM80 179h3v1h-3zM84 179h1v1h-1zM87 179h1v1h-1zM90 179h1v1h-1zM95 179h1v1h-1zM97 179h1v1h-1zM99 179h2v1h-2zM102 179h1v1h-1zM105 179h2v1h-2zM110 179h1v1h-1zM120 179h1v1h-1zM130 179h3v1h-3zM134 179h4v1h-4zM140 179h1v1h-1zM142 179h1v1h-1zM144 179h1v1h-1zM146 179h1v1h-1zM148 179h3v1h-3zM154 179h2v1h-2zM158 179h1v1h-1zM162 179h1v1h-1zM164 179h1v1h-1zM168 179h1v1h-1zM172 179h2v1h-2zM178 179h2v1h-2zM68 180h1v1h-1zM70 180h1v1h-1zM73 180h1v1h-1zM75 180h1v1h-1zM77 180h1v1h-1zM80 180h1v1h-1zM84 180h1v1h-1zM87 180h1v1h-1zM90 180h3v1h-3zM94 180h2v1h-2zM97 180h2v1h-2zM101 180h1v1h-1zM104 180h1v1h-1zM106 180h1v1h-1zM109 180h1v1h-1zM113 180h1v1h-1zM117 180h1v1h-1zM119 180h1v1h-1zM121 180h3v1h-3zM127 180h1v1h-1zM132 180h1v1h-1zM144 180h1v1h-1zM146 180h3v1h-3zM152 180h2v1h-2zM157 180h1v1h-1zM167 180h1v1h-1zM177 180h1v1h-1zM181 180h1v1h-1zM77 181h3v1h-3zM81 181h4v1h-4zM88 181h1v1h-1zM93 181h2v1h-2zM96 181h2v1h-2zM101 181h2v1h-2zM108 181h1v1h-1zM113 181h2v1h-2zM116 181h2v1h-2zM122 181h1v1h-1zM125 181h3v1h-3zM132 181h2v1h-2zM135 181h3v1h-3zM141 181h1v1h-1zM146 181h1v1h-1zM149 181h6v1h-6zM156 181h2v1h-2zM159 181h1v1h-1zM161 181h1v1h-1zM170 181h1v1h-1zM173 181h3v1h-3zM177 181h1v1h-1zM61 182h1v1h-1zM70 182h1v1h-1zM75 182h1v1h-1zM79 182h1v1h-1zM81 182h3v1h-3zM85 182h4v1h-4zM92 182h1v1h-1zM94 182h1v1h-1zM97 182h2v1h-2zM101 182h1v1h-1zM109 182h1v1h-1zM114 182h1v1h-1zM116 182h1v1h-1zM119 182h1v1h-1zM124 182h1v1h-1zM127 182h1v1h-1zM129 182h2v1h-2zM132 182h2v1h-2zM135 182h1v1h-1zM137 182h1v1h-1zM139 182h1v1h-1zM141 182h1v1h-1zM144 182h1v1h-1zM146 182h1v1h-1zM149 182h1v1h-1zM157 182h1v1h-1zM161 182h4v1h-4zM166 182h1v1h-1zM170 182h2v1h-2zM177 182h1v1h-1zM179 182h2v1h-2z"/><path fill="#2a2a2a" d="M55 69h1v1h-1zM53 73h1v1h-1zM59 74h1v1h-1zM50 76h1v1h-1zM48 77h1v1h-1zM56 84h1v1h-1zM57 85h2v1h-2zM52 87h1v1h-1zM48 89h1v1h-1zM47 90h1v1h-1zM69 91h1v1h-1zM46 92h1v1h-1zM50 92h2v1h-2zM57 92h1v1h-1zM157 93h1v1h-1zM47 94h1v1h-1zM53 94h1v1h-1zM53 96h1v1h-1zM51 97h1v1h-1zM57 98h2v1h-2zM49 100h1v1h-1zM60 100h1v1h-1zM48 103h1v1h-1zM54 103h1v1h-1zM59 103h1v1h-1zM47 104h2v1h-2zM58 107h1v1h-1zM69 107h1v1h-1zM55 108h1v1h-1zM58 108h1v1h-1zM47 109h1v1h-1zM51 109h2v1h-2zM56 109h1v1h-1zM47 110h1v1h-1zM52 110h1v1h-1zM54 110h2v1h-2zM61 110h1v1h-1zM75 110h1v1h-1zM47 111h1v1h-1zM49 111h1v1h-1zM58 111h1v1h-1zM54 112h1v1h-1zM57 112h1v1h-1zM51 113h1v1h-1zM55 113h1v1h-1zM53 114h1v1h-1zM66 114h1v1h-1zM48 115h1v1h-1zM101 115h1v1h-1zM153 115h1v1h-1zM46 116h1v1h-1zM48 116h1v1h-1zM46 117h2v1h-2zM77 117h1v1h-1zM46 118h1v1h-1zM48 118h1v1h-1zM46 119h1v1h-1zM48 119h4v1h-4zM57 119h1v1h-1zM59 119h1v1h-1zM63 119h1v1h-1zM108 119h1v1h-1zM46 120h4v1h-4zM51 120h1v1h-1zM53 120h1v1h-1zM56 120h1v1h-1zM50 121h1v1h-1zM52 121h1v1h-1zM54 121h1v1h-1zM60 122h1v1h-1zM66 122h1v1h-1zM99 122h1v1h-1zM115 122h1v1h-1zM53 123h1v1h-1zM58 123h1v1h-1zM117 123h1v1h-1zM47 124h4v1h-4zM54 124h1v1h-1zM59 124h1v1h-1zM64 124h1v1h-1zM75 124h1v1h-1zM46 125h1v1h-1zM50 125h4v1h-4zM57 125h1v1h-1zM62 125h1v1h-1zM67 125h1v1h-1zM55 126h1v1h-1zM58 126h1v1h-1zM61 126h1v1h-1zM114 126h1v1h-1zM53 127h1v1h-1zM60 127h2v1h-2zM101 127h1v1h-1zM47 128h1v1h-1zM49 128h1v1h-1zM53 128h1v1h-1zM106 128h1v1h-1zM59 129h1v1h-1zM63 129h1v1h-1zM66 129h1v1h-1zM51 130h1v1h-1zM53 130h1v1h-1zM69 130h1v1h-1zM46 131h1v1h-1zM50 131h2v1h-2zM54 131h1v1h-1zM56 131h1v1h-1zM59 131h1v1h-1zM61 131h1v1h-1zM56 132h2v1h-2zM62 132h1v1h-1zM48 133h2v1h-2zM60 133h1v1h-1zM72 133h1v1h-1zM46 134h1v1h-1zM52 134h1v1h-1zM60 134h1v1h-1zM63 134h1v1h-1zM76 134h1v1h-1zM159 134h1v1h-1zM49 135h3v1h-3zM54 135h1v1h-1zM60 135h1v1h-1zM62 135h2v1h-2zM100 135h1v1h-1zM46 136h1v1h-1zM48 136h2v1h-2zM51 136h2v1h-2zM56 136h1v1h-1zM60 136h1v1h-1zM62 136h1v1h-1zM64 136h1v1h-1zM66 136h1v1h-1zM82 136h1v1h-1zM172 136h1v1h-1zM47 137h1v1h-1zM54 137h2v1h-2zM60 137h1v1h-1zM84 137h1v1h-1zM90 137h1v1h-1zM101 137h1v1h-1zM113 137h1v1h-1zM52 138h2v1h-2zM56 138h1v1h-1zM64 138h1v1h-1zM176 138h1v1h-1zM46 139h1v1h-1zM53 139h1v1h-1zM55 139h1v1h-1zM61 139h1v1h-1zM47 140h1v1h-1zM54 140h1v1h-1zM57 140h2v1h-2zM98 140h1v1h-1zM113 140h1v1h-1zM51 141h1v1h-1zM58 141h1v1h-1zM64 141h1v1h-1zM66 141h1v1h-1zM135 141h1v1h-1zM52 142h1v1h-1zM54 142h1v1h-1zM65 142h2v1h-2zM68 142h1v1h-1zM91 142h1v1h-1zM46 143h1v1h-1zM49 143h1v1h-1zM54 143h1v1h-1zM56 143h1v1h-1zM62 143h1v1h-1zM65 143h1v1h-1zM87 143h1v1h-1zM111 143h1v1h-1zM49 144h3v1h-3zM55 144h1v1h-1zM57 144h1v1h-1zM60 144h2v1h-2zM64 144h1v1h-1zM49 145h1v1h-1zM51 145h2v1h-2zM55 145h2v1h-2zM58 145h1v1h-1zM63 145h1v1h-1zM65 145h1v1h-1zM80 145h1v1h-1zM122 145h1v1h-1zM177 145h1v1h-1zM46 146h1v1h-1zM50 146h1v1h-1zM52 146h2v1h-2zM55 146h1v1h-1zM61 146h2v1h-2zM70 146h1v1h-1zM77 146h1v1h-1zM109 146h1v1h-1zM155 146h1v1h-1zM52 147h2v1h-2zM57 147h1v1h-1zM60 147h1v1h-1zM65 147h1v1h-1zM68 147h1v1h-1zM93 147h1v1h-1zM112 147h1v1h-1zM175 147h1v1h-1zM47 148h1v1h-1zM50 148h1v1h-1zM53 148h1v1h-1zM58 148h1v1h-1zM67 148h1v1h-1zM91 148h1v1h-1zM94 148h1v1h-1zM104 148h1v1h-1zM120 148h1v1h-1zM126 148h1v1h-1zM167 148h1v1h-1zM51 149h1v1h-1zM57 149h1v1h-1zM60 149h1v1h-1zM73 149h3v1h-3zM84 149h1v1h-1zM86 149h1v1h-1zM113 149h1v1h-1zM150 149h1v1h-1zM163 149h1v1h-1zM46 150h1v1h-1zM50 150h1v1h-1zM52 150h1v1h-1zM58 150h2v1h-2zM65 150h1v1h-1zM83 150h1v1h-1zM53 151h1v1h-1zM59 151h1v1h-1zM68 151h1v1h-1zM91 151h1v1h-1zM161 151h1v1h-1zM49 152h1v1h-1zM60 152h1v1h-1zM71 152h2v1h-2zM82 152h1v1h-1zM84 152h1v1h-1zM123 152h1v1h-1zM145 152h1v1h-1zM57 153h1v1h-1zM63 153h1v1h-1zM79 153h1v1h-1zM85 153h1v1h-1zM95 153h1v1h-1zM46 154h1v1h-1zM50 154h1v1h-1zM52 154h1v1h-1zM54 154h2v1h-2zM59 154h1v1h-1zM61 154h1v1h-1zM83 154h1v1h-1zM88 154h1v1h-1zM100 154h1v1h-1zM160 154h1v1h-1zM55 155h1v1h-1zM62 155h1v1h-1zM86 155h1v1h-1zM88 155h1v1h-1zM104 155h1v1h-1zM155 155h1v1h-1zM164 155h1v1h-1zM173 155h1v1h-1zM50 156h1v1h-1zM61 156h1v1h-1zM64 156h1v1h-1zM66 156h1v1h-1zM78 156h1v1h-1zM82 156h1v1h-1zM90 156h1v1h-1zM121 156h1v1h-1zM131 156h1v1h-1zM136 156h1v1h-1zM139 156h1v1h-1zM164 156h1v1h-1zM56 157h1v1h-1zM67 157h1v1h-1zM71 157h1v1h-1zM79 157h1v1h-1zM126 157h1v1h-1zM128 157h1v1h-1zM142 157h1v1h-1zM52 158h1v1h-1zM54 158h1v1h-1zM57 158h1v1h-1zM59 158h1v1h-1zM61 158h1v1h-1zM67 158h1v1h-1zM71 158h2v1h-2zM74 158h1v1h-1zM78 158h1v1h-1zM121 158h1v1h-1zM149 158h1v1h-1zM168 158h1v1h-1zM63 159h2v1h-2zM76 159h1v1h-1zM78 159h1v1h-1zM94 159h1v1h-1zM110 159h1v1h-1zM112 159h1v1h-1zM125 159h1v1h-1zM134 159h1v1h-1zM155 159h1v1h-1zM160 159h2v1h-2zM167 159h1v1h-1zM169 159h1v1h-1zM52 160h2v1h-2zM55 160h1v1h-1zM62 160h2v1h-2zM68 160h1v1h-1zM78 160h1v1h-1zM93 160h1v1h-1zM124 160h2v1h-2zM127 160h1v1h-1zM132 160h1v1h-1zM177 160h1v1h-1zM52 161h1v1h-1zM61 161h1v1h-1zM65 161h1v1h-1zM71 161h1v1h-1zM75 161h1v1h-1zM78 161h1v1h-1zM80 161h1v1h-1zM84 161h1v1h-1zM88 161h2v1h-2zM99 161h1v1h-1zM109 161h1v1h-1zM139 161h1v1h-1zM155 161h1v1h-1zM158 161h1v1h-1zM160 161h1v1h-1zM178 161h1v1h-1zM180 161h1v1h-1zM55 162h1v1h-1zM58 162h1v1h-1zM67 162h2v1h-2zM71 162h2v1h-2zM83 162h1v1h-1zM89 162h1v1h-1zM96 162h1v1h-1zM102 162h1v1h-1zM122 162h1v1h-1zM130 162h1v1h-1zM132 162h1v1h-1zM135 162h1v1h-1zM144 162h1v1h-1zM148 162h1v1h-1zM161 162h1v1h-1zM164 162h1v1h-1zM166 162h1v1h-1zM171 162h1v1h-1zM65 163h2v1h-2zM68 163h3v1h-3zM98 163h1v1h-1zM104 163h1v1h-1zM122 163h1v1h-1zM150 163h1v1h-1zM161 163h1v1h-1zM168 163h1v1h-1zM176 163h1v1h-1zM53 164h1v1h-1zM67 164h1v1h-1zM69 164h1v1h-1zM72 164h1v1h-1zM78 164h1v1h-1zM80 164h1v1h-1zM85 164h1v1h-1zM105 164h1v1h-1zM144 164h1v1h-1zM146 164h1v1h-1zM148 164h3v1h-3zM160 164h2v1h-2zM167 164h1v1h-1zM59 165h1v1h-1zM62 165h3v1h-3zM75 165h1v1h-1zM77 165h1v1h-1zM80 165h1v1h-1zM84 165h2v1h-2zM102 165h2v1h-2zM109 165h1v1h-1zM121 165h1v1h-1zM123 165h1v1h-1zM137 165h1v1h-1zM142 165h1v1h-1zM146 165h1v1h-1zM148 165h2v1h-2zM151 165h1v1h-1zM159 165h1v1h-1zM161 165h1v1h-1zM172 165h1v1h-1zM174 165h1v1h-1zM56 166h2v1h-2zM60 166h1v1h-1zM66 166h1v1h-1zM72 166h1v1h-1zM99 166h1v1h-1zM105 166h1v1h-1zM111 166h1v1h-1zM113 166h1v1h-1zM122 166h2v1h-2zM125 166h1v1h-1zM130 166h1v1h-1zM135 166h1v1h-1zM156 166h1v1h-1zM168 166h1v1h-1zM171 166h1v1h-1zM173 166h1v1h-1zM175 166h1v1h-1zM181 166h1v1h-1zM70 167h1v1h-1zM88 167h1v1h-1zM98 167h1v1h-1zM121 167h1v1h-1zM126 167h1v1h-1zM136 167h1v1h-1zM141 167h1v1h-1zM155 167h1v1h-1zM165 167h2v1h-2zM50 168h1v1h-1zM60 168h2v1h-2zM75 168h1v1h-1zM77 168h1v1h-1zM79 168h4v1h-4zM87 168h1v1h-1zM95 168h1v1h-1zM100 168h1v1h-1zM120 168h1v1h-1zM133 168h1v1h-1zM155 168h1v1h-1zM173 168h1v1h-1zM176 168h1v1h-1zM56 169h1v1h-1zM68 169h1v1h-1zM70 169h1v1h-1zM72 169h1v1h-1zM80 169h1v1h-1zM82 169h1v1h-1zM88 169h1v1h-1zM94 169h1v1h-1zM99 169h1v1h-1zM115 169h1v1h-1zM131 169h1v1h-1zM142 169h1v1h-1zM147 169h1v1h-1zM155 169h2v1h-2zM161 169h1v1h-1zM173 169h1v1h-1zM176 169h1v1h-1zM178 169h2v1h-2zM66 170h1v1h-1zM68 170h1v1h-1zM70 170h4v1h-4zM75 170h1v1h-1zM82 170h1v1h-1zM92 170h1v1h-1zM111 170h1v1h-1zM120 170h1v1h-1zM123 170h1v1h-1zM130 170h1v1h-1zM141 170h1v1h-1zM144 170h1v1h-1zM153 170h1v1h-1zM156 170h1v1h-1zM170 170h1v1h-1zM173 170h1v1h-1zM64 171h1v1h-1zM66 171h1v1h-1zM69 171h1v1h-1zM74 171h1v1h-1zM80 171h1v1h-1zM82 171h1v1h-1zM98 171h1v1h-1zM112 171h2v1h-2zM120 171h1v1h-1zM132 171h2v1h-2zM138 171h2v1h-2zM142 171h1v1h-1zM145 171h1v1h-1zM148 171h1v1h-1zM152 171h1v1h-1zM154 171h1v1h-1zM159 171h1v1h-1zM162 171h1v1h-1zM164 171h2v1h-2zM171 171h1v1h-1zM177 171h1v1h-1zM180 171h1v1h-1zM58 172h1v1h-1zM60 172h1v1h-1zM68 172h1v1h-1zM90 172h1v1h-1zM92 172h4v1h-4zM113 172h1v1h-1zM135 172h1v1h-1zM139 172h1v1h-1zM142 172h3v1h-3zM149 172h2v1h-2zM153 172h1v1h-1zM157 172h1v1h-1zM163 172h2v1h-2zM177 172h2v1h-2zM69 173h4v1h-4zM78 173h1v1h-1zM80 173h2v1h-2zM86 173h1v1h-1zM90 173h1v1h-1zM118 173h1v1h-1zM127 173h1v1h-1zM132 173h1v1h-1zM145 173h2v1h-2zM150 173h1v1h-1zM172 173h2v1h-2zM58 174h1v1h-1zM69 174h3v1h-3zM77 174h1v1h-1zM79 174h2v1h-2zM89 174h2v1h-2zM93 174h1v1h-1zM100 174h1v1h-1zM102 174h1v1h-1zM106 174h1v1h-1zM118 174h1v1h-1zM123 174h1v1h-1zM127 174h1v1h-1zM129 174h1v1h-1zM131 174h2v1h-2zM139 174h1v1h-1zM141 174h1v1h-1zM143 174h1v1h-1zM149 174h1v1h-1zM154 174h1v1h-1zM157 174h1v1h-1zM159 174h1v1h-1zM162 174h1v1h-1zM167 174h4v1h-4zM179 174h1v1h-1zM59 175h1v1h-1zM69 175h1v1h-1zM72 175h1v1h-1zM79 175h3v1h-3zM89 175h2v1h-2zM92 175h1v1h-1zM98 175h1v1h-1zM106 175h1v1h-1zM114 175h1v1h-1zM121 175h1v1h-1zM140 175h2v1h-2zM147 175h1v1h-1zM154 175h1v1h-1zM158 175h1v1h-1zM161 175h1v1h-1zM169 175h2v1h-2zM61 176h1v1h-1zM70 176h1v1h-1zM72 176h1v1h-1zM86 176h1v1h-1zM88 176h2v1h-2zM91 176h1v1h-1zM96 176h2v1h-2zM102 176h1v1h-1zM105 176h2v1h-2zM109 176h1v1h-1zM124 176h1v1h-1zM127 176h1v1h-1zM136 176h4v1h-4zM141 176h1v1h-1zM155 176h1v1h-1zM158 176h2v1h-2zM161 176h2v1h-2zM172 176h1v1h-1zM178 176h1v1h-1zM58 177h1v1h-1zM60 177h1v1h-1zM71 177h1v1h-1zM73 177h2v1h-2zM77 177h1v1h-1zM80 177h1v1h-1zM88 177h1v1h-1zM97 177h1v1h-1zM103 177h1v1h-1zM124 177h2v1h-2zM130 177h1v1h-1zM142 177h1v1h-1zM152 177h3v1h-3zM158 177h4v1h-4zM171 177h1v1h-1zM54 178h1v1h-1zM71 178h1v1h-1zM74 178h1v1h-1zM79 178h1v1h-1zM81 178h1v1h-1zM83 178h1v1h-1zM94 178h1v1h-1zM101 178h1v1h-1zM110 178h1v1h-1zM119 178h2v1h-2zM125 178h1v1h-1zM129 178h1v1h-1zM137 178h1v1h-1zM140 178h1v1h-1zM146 178h1v1h-1zM149 178h1v1h-1zM155 178h1v1h-1zM162 178h1v1h-1zM164 178h1v1h-1zM166 178h1v1h-1zM174 178h1v1h-1zM179 178h1v1h-1zM65 179h2v1h-2zM68 179h1v1h-1zM72 179h1v1h-1zM74 179h1v1h-1zM88 179h1v1h-1zM94 179h1v1h-1zM98 179h1v1h-1zM103 179h1v1h-1zM112 179h1v1h-1zM125 179h2v1h-2zM133 179h1v1h-1zM138 179h2v1h-2zM141 179h1v1h-1zM152 179h1v1h-1zM156 179h1v1h-1zM163 179h1v1h-1zM180 179h1v1h-1zM71 180h1v1h-1zM78 180h2v1h-2zM93 180h1v1h-1zM105 180h1v1h-1zM107 180h1v1h-1zM110 180h2v1h-2zM114 180h1v1h-1zM116 180h1v1h-1zM124 180h1v1h-1zM126 180h1v1h-1zM131 180h1v1h-1zM135 180h1v1h-1zM139 180h1v1h-1zM141 180h1v1h-1zM145 180h1v1h-1zM149 180h1v1h-1zM155 180h1v1h-1zM158 180h3v1h-3zM162 180h2v1h-2zM165 180h2v1h-2zM168 180h1v1h-1zM173 180h1v1h-1zM69 181h1v1h-1zM75 181h2v1h-2zM85 181h1v1h-1zM87 181h1v1h-1zM89 181h1v1h-1zM92 181h1v1h-1zM95 181h1v1h-1zM98 181h1v1h-1zM104 181h1v1h-1zM110 181h1v1h-1zM119 181h1v1h-1zM123 181h1v1h-1zM130 181h1v1h-1zM139 181h1v1h-1zM142 181h1v1h-1zM144 181h1v1h-1zM163 181h3v1h-3zM179 181h1v1h-1zM66 182h1v1h-1zM69 182h1v1h-1zM72 182h3v1h-3zM77 182h2v1h-2zM84 182h1v1h-1zM96 182h1v1h-1zM99 182h1v1h-1zM103 182h1v1h-1zM108 182h1v1h-1zM112 182h1v1h-1zM117 182h1v1h-1zM120 182h1v1h-1zM125 182h1v1h-1zM142 182h1v1h-1zM150 182h2v1h-2zM155 182h1v1h-1zM160 182h1v1h-1zM165 182h1v1h-1zM168 182h1v1h-1zM172 182h1v1h-1zM174 182h1v1h-1z"/><path fill="#000000" d="M46 90h1v1h-1zM51 93h1v1h-1zM54 102h1v1h-1zM51 103h1v1h-1zM49 105h1v1h-1zM51 105h1v1h-1zM50 109h1v1h-1zM51 112h1v1h-1zM46 113h1v1h-1zM48 113h1v1h-1zM50 114h1v1h-1zM58 114h1v1h-1zM51 115h1v1h-1zM50 116h1v1h-1zM51 117h2v1h-2zM54 117h1v1h-1zM49 118h1v1h-1zM62 118h1v1h-1zM54 120h1v1h-1zM47 121h1v1h-1zM46 122h1v1h-1zM57 122h1v1h-1zM47 123h1v1h-1zM51 123h1v1h-1zM60 123h1v1h-1zM67 123h1v1h-1zM63 124h1v1h-1zM47 125h1v1h-1zM49 125h1v1h-1zM54 125h1v1h-1zM52 126h1v1h-1zM54 126h1v1h-1zM47 127h1v1h-1zM49 127h1v1h-1zM51 127h1v1h-1zM50 128h1v1h-1zM52 128h1v1h-1zM54 128h1v1h-1zM59 128h2v1h-2zM46 129h1v1h-1zM49 129h1v1h-1zM51 129h1v1h-1zM55 129h1v1h-1zM60 129h1v1h-1zM47 130h3v1h-3zM52 130h1v1h-1zM57 130h1v1h-1zM47 131h2v1h-2zM52 131h1v1h-1zM55 131h1v1h-1zM49 132h2v1h-2zM59 132h2v1h-2zM54 133h1v1h-1zM56 133h1v1h-1zM58 133h1v1h-1zM47 134h2v1h-2zM50 134h2v1h-2zM46 135h1v1h-1zM53 135h1v1h-1zM56 135h1v1h-1zM58 135h2v1h-2zM61 135h1v1h-1zM50 136h1v1h-1zM55 136h1v1h-1zM46 137h1v1h-1zM49 137h2v1h-2zM53 137h1v1h-1zM56 137h1v1h-1zM59 137h1v1h-1zM47 138h1v1h-1zM50 138h1v1h-1zM57 138h2v1h-2zM47 139h5v1h-5zM57 139h1v1h-1zM59 139h2v1h-2zM62 139h2v1h-2zM49 140h1v1h-1zM51 140h3v1h-3zM55 140h1v1h-1zM61 140h1v1h-1zM46 141h1v1h-1zM48 141h3v1h-3zM52 141h2v1h-2zM56 141h1v1h-1zM46 142h5v1h-5zM53 142h1v1h-1zM55 142h2v1h-2zM58 142h1v1h-1zM60 142h1v1h-1zM47 143h2v1h-2zM50 143h4v1h-4zM59 143h3v1h-3zM47 144h2v1h-2zM52 144h3v1h-3zM56 144h1v1h-1zM58 144h1v1h-1zM46 145h3v1h-3zM50 145h1v1h-1zM60 145h2v1h-2zM47 146h3v1h-3zM51 146h1v1h-1zM56 146h1v1h-1zM59 146h1v1h-1zM63 146h1v1h-1zM46 147h4v1h-4zM51 147h1v1h-1zM55 147h2v1h-2zM58 147h2v1h-2zM62 147h1v1h-1zM64 147h1v1h-1zM46 148h1v1h-1zM48 148h1v1h-1zM51 148h2v1h-2zM55 148h3v1h-3zM60 148h1v1h-1zM62 148h2v1h-2zM66 148h1v1h-1zM46 149h3v1h-3zM50 149h1v1h-1zM52 149h3v1h-3zM59 149h1v1h-1zM65 149h2v1h-2zM47 150h2v1h-2zM51 150h1v1h-1zM53 150h1v1h-1zM55 150h1v1h-1zM57 150h1v1h-1zM62 150h1v1h-1zM46 151h7v1h-7zM54 151h5v1h-5zM60 151h2v1h-2zM77 151h1v1h-1zM86 151h1v1h-1zM123 151h1v1h-1zM46 152h1v1h-1zM50 152h3v1h-3zM54 152h2v1h-2zM58 152h1v1h-1zM61 152h1v1h-1zM64 152h1v1h-1zM66 152h1v1h-1zM69 152h1v1h-1zM47 153h3v1h-3zM51 153h6v1h-6zM59 153h3v1h-3zM47 154h3v1h-3zM51 154h1v1h-1zM53 154h1v1h-1zM58 154h1v1h-1zM62 154h1v1h-1zM64 154h1v1h-1zM46 155h9v1h-9zM57 155h2v1h-2zM61 155h1v1h-1zM63 155h1v1h-1zM65 155h1v1h-1zM80 155h1v1h-1zM117 155h1v1h-1zM46 156h3v1h-3zM51 156h3v1h-3zM55 156h3v1h-3zM62 156h1v1h-1zM65 156h1v1h-1zM71 156h1v1h-1zM165 156h1v1h-1zM169 156h1v1h-1zM46 157h10v1h-10zM57 157h2v1h-2zM60 157h1v1h-1zM63 157h2v1h-2zM77 157h1v1h-1zM154 157h1v1h-1zM46 158h6v1h-6zM53 158h1v1h-1zM55 158h2v1h-2zM58 158h1v1h-1zM60 158h1v1h-1zM62 158h1v1h-1zM64 158h3v1h-3zM69 158h1v1h-1zM83 158h1v1h-1zM87 158h1v1h-1zM159 158h1v1h-1zM162 158h1v1h-1zM171 158h1v1h-1zM46 159h15v1h-15zM66 159h2v1h-2zM70 159h1v1h-1zM74 159h1v1h-1zM97 159h1v1h-1zM46 160h6v1h-6zM54 160h1v1h-1zM56 160h1v1h-1zM58 160h1v1h-1zM60 160h2v1h-2zM65 160h2v1h-2zM72 160h1v1h-1zM74 160h1v1h-1zM46 161h6v1h-6zM53 161h8v1h-8zM62 161h1v1h-1zM64 161h1v1h-1zM66 161h1v1h-1zM69 161h2v1h-2zM83 161h1v1h-1zM97 161h1v1h-1zM46 162h5v1h-5zM52 162h3v1h-3zM56 162h2v1h-2zM59 162h1v1h-1zM61 162h4v1h-4zM66 162h1v1h-1zM69 162h2v1h-2zM82 162h1v1h-1zM46 163h3v1h-3zM50 163h9v1h-9zM61 163h4v1h-4zM67 163h1v1h-1zM157 163h1v1h-1zM173 163h1v1h-1zM46 164h7v1h-7zM55 164h5v1h-5zM61 164h2v1h-2zM89 164h1v1h-1zM168 164h1v1h-1zM46 165h13v1h-13zM60 165h2v1h-2zM65 165h2v1h-2zM79 165h1v1h-1zM116 165h1v1h-1zM166 165h1v1h-1zM173 165h1v1h-1zM46 166h10v1h-10zM58 166h1v1h-1zM61 166h1v1h-1zM63 166h1v1h-1zM65 166h1v1h-1zM67 166h3v1h-3zM73 166h1v1h-1zM87 166h1v1h-1zM126 166h1v1h-1zM153 166h1v1h-1zM46 167h9v1h-9zM56 167h4v1h-4zM61 167h3v1h-3zM65 167h3v1h-3zM69 167h1v1h-1zM73 167h2v1h-2zM76 167h1v1h-1zM79 167h1v1h-1zM81 167h1v1h-1zM101 167h1v1h-1zM138 167h1v1h-1zM171 167h1v1h-1zM46 168h4v1h-4zM51 168h5v1h-5zM57 168h2v1h-2zM62 168h2v1h-2zM65 168h1v1h-1zM67 168h1v1h-1zM73 168h1v1h-1zM76 168h1v1h-1zM118 168h1v1h-1zM130 168h1v1h-1zM159 168h1v1h-1zM161 168h1v1h-1zM167 168h3v1h-3zM46 169h10v1h-10zM57 169h6v1h-6zM64 169h1v1h-1zM67 169h1v1h-1zM76 169h1v1h-1zM78 169h2v1h-2zM110 169h1v1h-1zM120 169h1v1h-1zM145 169h1v1h-1zM158 169h1v1h-1zM168 169h1v1h-1zM177 169h1v1h-1zM46 170h17v1h-17zM65 170h1v1h-1zM67 170h1v1h-1zM77 170h1v1h-1zM110 170h1v1h-1zM131 170h1v1h-1zM152 170h1v1h-1zM46 171h18v1h-18zM65 171h1v1h-1zM71 171h2v1h-2zM150 171h1v1h-1zM168 171h1v1h-1zM46 172h12v1h-12zM59 172h1v1h-1zM61 172h3v1h-3zM69 172h1v1h-1zM71 172h2v1h-2zM76 172h1v1h-1zM82 172h1v1h-1zM88 172h1v1h-1zM125 172h1v1h-1zM160 172h1v1h-1zM165 172h1v1h-1zM167 172h3v1h-3zM174 172h1v1h-1zM46 173h18v1h-18zM65 173h2v1h-2zM100 173h1v1h-1zM106 173h1v1h-1zM108 173h1v1h-1zM141 173h1v1h-1zM159 173h1v1h-1zM165 173h2v1h-2zM180 173h1v1h-1zM46 174h12v1h-12zM59 174h2v1h-2zM62 174h1v1h-1zM64 174h1v1h-1zM66 174h1v1h-1zM68 174h1v1h-1zM75 174h1v1h-1zM87 174h1v1h-1zM91 174h1v1h-1zM104 174h1v1h-1zM107 174h1v1h-1zM113 174h1v1h-1zM174 174h1v1h-1zM46 175h13v1h-13zM60 175h3v1h-3zM65 175h2v1h-2zM68 175h1v1h-1zM70 175h2v1h-2zM73 175h2v1h-2zM78 175h1v1h-1zM84 175h1v1h-1zM87 175h1v1h-1zM107 175h1v1h-1zM116 175h1v1h-1zM131 175h1v1h-1zM144 175h1v1h-1zM150 175h1v1h-1zM152 175h1v1h-1zM159 175h1v1h-1zM165 175h1v1h-1zM173 175h1v1h-1zM46 176h15v1h-15zM62 176h4v1h-4zM67 176h3v1h-3zM71 176h1v1h-1zM73 176h1v1h-1zM75 176h2v1h-2zM93 176h2v1h-2zM100 176h1v1h-1zM116 176h1v1h-1zM128 176h1v1h-1zM134 176h1v1h-1zM163 176h1v1h-1zM167 176h1v1h-1zM46 177h12v1h-12zM59 177h1v1h-1zM61 177h1v1h-1zM63 177h3v1h-3zM68 177h1v1h-1zM70 177h1v1h-1zM72 177h1v1h-1zM78 177h2v1h-2zM81 177h2v1h-2zM91 177h1v1h-1zM163 177h2v1h-2zM177 177h1v1h-1zM46 178h8v1h-8zM55 178h10v1h-10zM66 178h2v1h-2zM69 178h2v1h-2zM72 178h1v1h-1zM99 178h1v1h-1zM106 178h1v1h-1zM136 178h1v1h-1zM147 178h1v1h-1zM172 178h1v1h-1zM175 178h1v1h-1zM46 179h18v1h-18zM67 179h1v1h-1zM69 179h3v1h-3zM89 179h1v1h-1zM107 179h1v1h-1zM116 179h1v1h-1zM157 179h1v1h-1zM159 179h2v1h-2zM166 179h2v1h-2zM169 179h2v1h-2zM174 179h2v1h-2zM46 180h22v1h-22zM72 180h1v1h-1zM76 180h1v1h-1zM82 180h2v1h-2zM86 180h1v1h-1zM89 180h1v1h-1zM100 180h1v1h-1zM150 180h1v1h-1zM161 180h1v1h-1zM164 180h1v1h-1zM171 180h1v1h-1zM46 181h23v1h-23zM70 181h3v1h-3zM80 181h1v1h-1zM91 181h1v1h-1zM103 181h1v1h-1zM109 181h1v1h-1zM162 181h1v1h-1zM168 181h1v1h-1zM171 181h1v1h-1zM46 182h15v1h-15zM62 182h4v1h-4zM67 182h2v1h-2zM71 182h1v1h-1zM76 182h1v1h-1zM80 182h1v1h-1zM93 182h1v1h-1zM102 182h1v1h-1zM105 182h1v1h-1zM122 182h2v1h-2zM128 182h1v1h-1zM131 182h1v1h-1zM145 182h1v1h-1zM152 182h2v1h-2zM156 182h1v1h-1zM167 182h1v1h-1zM169 182h1v1h-1zM175 182h1v1h-1zM178 182h1v1h-1z"/><line x1="35.5" y1="164.5" x2="195.5" y2="175.8" stroke="#9a9a9a" stroke-width="1.2"/><rect x="35.5" y="20.5" width="160.0" height="163.0" fill="none" stroke="#3a3a3a" stroke-width="1.1"/><line x1="43.5" y1="183.5" x2="43.5" y2="188.5" stroke="#333" stroke-width="1"/><text x="43.5" y="196.3" font-size="8.4" text-anchor="middle" fill="#111">,00</text><line x1="72.3" y1="183.5" x2="72.3" y2="188.5" stroke="#333" stroke-width="1"/><text x="72.3" y="196.3" font-size="8.4" text-anchor="middle" fill="#111">,20</text><line x1="101.1" y1="183.5" x2="101.1" y2="188.5" stroke="#333" stroke-width="1"/><text x="101.1" y="196.3" font-size="8.4" text-anchor="middle" fill="#111">,40</text><line x1="129.9" y1="183.5" x2="129.9" y2="188.5" stroke="#333" stroke-width="1"/><text x="129.9" y="196.3" font-size="8.4" text-anchor="middle" fill="#111">,60</text><line x1="158.7" y1="183.5" x2="158.7" y2="188.5" stroke="#333" stroke-width="1"/><text x="158.7" y="196.3" font-size="8.4" text-anchor="middle" fill="#111">,80</text><line x1="187.5" y1="183.5" x2="187.5" y2="188.5" stroke="#333" stroke-width="1"/><text x="187.5" y="196.3" font-size="8.4" text-anchor="middle" fill="#111">1,00</text><line x1="31" y1="52.6" x2="35.5" y2="52.6" stroke="#333" stroke-width="1"/><text x="30.8" y="55.9" font-size="7.8" text-anchor="end" fill="#3a3a3a" textLength="27" lengthAdjust="spacingAndGlyphs">50000,00</text><text transform="translate(22.6,120) rotate(-90)" font-size="9.6" text-anchor="middle" fill="#111" textLength="100" lengthAdjust="spacingAndGlyphs">Gene expression (Log)</text><rect x="33.5" y="210.7" width="160.8" height="163.60000000000002" fill="none" stroke="#808080" stroke-width="1.1"/><line x1="29.4" y1="227.2" x2="33.5" y2="227.2" stroke="#444" stroke-width="1"/><line x1="29.4" y1="300.5" x2="33.5" y2="300.5" stroke="#444" stroke-width="1"/><line x1="29.4" y1="374.3" x2="33.5" y2="374.3" stroke="#444" stroke-width="1"/><text x="29.0" y="231.2" font-size="7.5" text-anchor="end" fill="#000" stroke="#000" stroke-width="0.25" textLength="16.6" lengthAdjust="spacingAndGlyphs">10000</text><text x="29.0" y="304.5" font-size="7.5" text-anchor="end" fill="#000" stroke="#000" stroke-width="0.25" textLength="13.4" lengthAdjust="spacingAndGlyphs">1000</text><text x="29.0" y="378.3" font-size="7.5" text-anchor="end" fill="#000" stroke="#000" stroke-width="0.25" textLength="9.6" lengthAdjust="spacingAndGlyphs">100</text><text transform="translate(11.2,289) rotate(-90)" font-size="9.6" text-anchor="middle" fill="#111" textLength="99" lengthAdjust="spacingAndGlyphs">Gene expression (Log)</text><line x1="65.7" y1="374.3" x2="65.7" y2="379" stroke="#444" stroke-width="1"/><text x="65.7" y="387.3" font-size="7.6" text-anchor="middle" fill="#111" stroke="#111" stroke-width="0.2" textLength="37.7" lengthAdjust="spacingAndGlyphs">Unmethylated</text><line x1="113.3" y1="374.3" x2="113.3" y2="379" stroke="#444" stroke-width="1"/><text x="113.3" y="387.3" font-size="7.6" text-anchor="middle" fill="#111" stroke="#111" stroke-width="0.2" textLength="31.5" lengthAdjust="spacingAndGlyphs">Methylated</text><line x1="162.3" y1="374.3" x2="162.3" y2="379" stroke="#444" stroke-width="1"/><text x="162.3" y="387.3" font-size="7.6" text-anchor="middle" fill="#111" stroke="#111" stroke-width="0.2" textLength="46.6" lengthAdjust="spacingAndGlyphs">Hypermethylated</text><text x="12.5" y="399.6" font-size="9.7" fill="#111" textLength="20.6" lengthAdjust="spacingAndGlyphs">Beta:</text><text x="57.3" y="399.4" font-size="9.4" fill="#111" textLength="17.6" lengthAdjust="spacingAndGlyphs">&lt;0.3</text><text x="154.4" y="399.7" font-size="9.4" fill="#111" textLength="17.4" lengthAdjust="spacingAndGlyphs">&gt;0.7</text><line x1="65.6" y1="265.2" x2="65.6" y2="305.3" stroke="#444" stroke-width="1"/><line x1="65.6" y1="337.2" x2="65.6" y2="355.0" stroke="#444" stroke-width="1"/><line x1="57.2" y1="265.2" x2="74.1" y2="265.2" stroke="#444" stroke-width="1"/><line x1="57.2" y1="355.0" x2="74.1" y2="355.0" stroke="#444" stroke-width="1"/><rect x="48.5" y="305.3" width="34.0" height="31.899999999999977" fill="#c8c8c8" stroke="#444" stroke-width="1"/><line x1="48.5" y1="318.4" x2="82.5" y2="318.4" stroke="#333" stroke-width="1.6"/><line x1="113.9" y1="310.8" x2="113.9" y2="331.3" stroke="#444" stroke-width="1"/><line x1="113.9" y1="345.4" x2="113.9" y2="358.7" stroke="#444" stroke-width="1"/><line x1="105.4" y1="310.8" x2="122.3" y2="310.8" stroke="#444" stroke-width="1"/><line x1="105.4" y1="358.7" x2="122.3" y2="358.7" stroke="#444" stroke-width="1"/><rect x="96.6" y="331.3" width="34.5" height="14.099999999999966" fill="#c8c8c8" stroke="#444" stroke-width="1"/><line x1="96.6" y1="337.7" x2="131.1" y2="337.7" stroke="#333" stroke-width="1.6"/><line x1="162.3" y1="339.5" x2="162.3" y2="346.3" stroke="#444" stroke-width="1"/><line x1="162.3" y1="355.3" x2="162.3" y2="357.9" stroke="#444" stroke-width="1"/><line x1="153.8" y1="339.5" x2="170.8" y2="339.5" stroke="#444" stroke-width="1"/><line x1="153.8" y1="357.9" x2="170.8" y2="357.9" stroke="#444" stroke-width="1"/><rect x="145.1" y="346.3" width="34.5" height="9.0" fill="#c8c8c8" stroke="#444" stroke-width="1"/><line x1="145.1" y1="352.6" x2="179.6" y2="352.6" stroke="#333" stroke-width="1.6"/><circle cx="65.5" cy="234.3" r="1.4" fill="none" stroke="#444" stroke-width="0.9"/><circle cx="65.5" cy="243.3" r="1.4" fill="none" stroke="#444" stroke-width="0.9"/><circle cx="113.8" cy="292.8" r="1.4" fill="none" stroke="#444" stroke-width="0.9"/><circle cx="114" cy="246.4" r="1.15" fill="#333"/><rect x="239" y="11" width="134.60000000000002" height="93.3" rx="1.2" fill="#fff" stroke="#dadada" stroke-width="1.6"/><line x1="250.6" y1="89.80" x2="368.2" y2="89.80" stroke="#bababa" stroke-width="1.5"/><text x="249.20" y="91.75" font-size="4.6" font-weight="bold" text-anchor="end" fill="#333" textLength="2.0" lengthAdjust="spacingAndGlyphs">0</text><line x1="250.6" y1="82.17" x2="368.2" y2="82.17" stroke="#bababa" stroke-width="1.5"/><text x="249.20" y="84.12" font-size="4.6" font-weight="bold" text-anchor="end" fill="#333" textLength="6.1" lengthAdjust="spacingAndGlyphs">100</text><line x1="250.6" y1="74.55" x2="368.2" y2="74.55" stroke="#bababa" stroke-width="1.5"/><text x="249.20" y="76.50" font-size="4.6" font-weight="bold" text-anchor="end" fill="#333" textLength="6.1" lengthAdjust="spacingAndGlyphs">200</text><line x1="250.6" y1="66.92" x2="368.2" y2="66.92" stroke="#bababa" stroke-width="1.5"/><text x="249.20" y="68.88" font-size="4.6" font-weight="bold" text-anchor="end" fill="#333" textLength="6.1" lengthAdjust="spacingAndGlyphs">300</text><line x1="250.6" y1="59.30" x2="368.2" y2="59.30" stroke="#bababa" stroke-width="1.5"/><text x="249.20" y="61.25" font-size="4.6" font-weight="bold" text-anchor="end" fill="#333" textLength="6.1" lengthAdjust="spacingAndGlyphs">400</text><line x1="250.6" y1="51.67" x2="368.2" y2="51.67" stroke="#bababa" stroke-width="1.5"/><text x="249.20" y="53.62" font-size="4.6" font-weight="bold" text-anchor="end" fill="#333" textLength="6.1" lengthAdjust="spacingAndGlyphs">500</text><line x1="250.6" y1="44.05" x2="368.2" y2="44.05" stroke="#bababa" stroke-width="1.5"/><text x="249.20" y="46.00" font-size="4.6" font-weight="bold" text-anchor="end" fill="#333" textLength="6.1" lengthAdjust="spacingAndGlyphs">600</text><line x1="250.6" y1="36.42" x2="368.2" y2="36.42" stroke="#bababa" stroke-width="1.5"/><text x="249.20" y="38.38" font-size="4.6" font-weight="bold" text-anchor="end" fill="#333" textLength="6.1" lengthAdjust="spacingAndGlyphs">700</text><line x1="250.6" y1="28.80" x2="368.2" y2="28.80" stroke="#bababa" stroke-width="1.5"/><text x="249.20" y="30.75" font-size="4.6" font-weight="bold" text-anchor="end" fill="#333" textLength="6.1" lengthAdjust="spacingAndGlyphs">800</text><line x1="252.4" y1="28.8" x2="252.4" y2="91.3" stroke="#8c8c8c" stroke-width="1"/><text x="252.40" y="98.70" font-size="4.6" font-weight="bold" text-anchor="middle" fill="#333" textLength="1.9" lengthAdjust="spacingAndGlyphs">0</text><line x1="275.56" y1="89.8" x2="275.56" y2="91.3" stroke="#8a8a8a" stroke-width="0.8"/><text x="275.56" y="98.70" font-size="4.6" font-weight="bold" text-anchor="middle" fill="#333" textLength="4.6" lengthAdjust="spacingAndGlyphs">0.2</text><line x1="298.72" y1="89.8" x2="298.72" y2="91.3" stroke="#8a8a8a" stroke-width="0.8"/><text x="298.72" y="98.70" font-size="4.6" font-weight="bold" text-anchor="middle" fill="#333" textLength="4.6" lengthAdjust="spacingAndGlyphs">0.4</text><line x1="321.88" y1="89.8" x2="321.88" y2="91.3" stroke="#8a8a8a" stroke-width="0.8"/><text x="321.88" y="98.70" font-size="4.6" font-weight="bold" text-anchor="middle" fill="#333" textLength="4.6" lengthAdjust="spacingAndGlyphs">0.6</text><line x1="345.04" y1="89.8" x2="345.04" y2="91.3" stroke="#8a8a8a" stroke-width="0.8"/><text x="345.04" y="98.70" font-size="4.6" font-weight="bold" text-anchor="middle" fill="#333" textLength="4.6" lengthAdjust="spacingAndGlyphs">0.8</text><line x1="368.20" y1="89.8" x2="368.20" y2="91.3" stroke="#8a8a8a" stroke-width="0.8"/><text x="368.20" y="98.70" font-size="4.6" font-weight="bold" text-anchor="middle" fill="#333" textLength="1.9" lengthAdjust="spacingAndGlyphs">1</text><text x="306.35" y="21.40" font-size="7.9" font-weight="bold" text-anchor="middle" fill="#000" textLength="19.0" lengthAdjust="spacingAndGlyphs">DAPK1</text><circle cx="262.4" cy="36.0" r="1.45" fill="#111"/><circle cx="261.9" cy="54.6" r="1.45" fill="#111"/><circle cx="260.6" cy="60.5" r="1.45" fill="#111"/><circle cx="256.8" cy="61.3" r="1.45" fill="#111"/><circle cx="261.1" cy="70.3" r="1.45" fill="#111"/><circle cx="264.7" cy="68.2" r="1.45" fill="#111"/><circle cx="265.0" cy="72.1" r="1.45" fill="#111"/><circle cx="313.7" cy="70.6" r="1.45" fill="#111"/><circle cx="315.5" cy="68.2" r="1.45" fill="#111"/><circle cx="358.8" cy="76.2" r="1.45" fill="#111"/><rect x="384.6" y="11" width="134.39999999999998" height="93.3" rx="1.2" fill="#fff" stroke="#dadada" stroke-width="1.6"/><line x1="396.7" y1="90.00" x2="512.8" y2="90.00" stroke="#bababa" stroke-width="1.5"/><text x="395.30" y="91.95" font-size="4.6" font-weight="bold" text-anchor="end" fill="#333" textLength="2.0" lengthAdjust="spacingAndGlyphs">0</text><line x1="396.7" y1="79.80" x2="512.8" y2="79.80" stroke="#bababa" stroke-width="1.5"/><text x="395.30" y="81.75" font-size="4.6" font-weight="bold" text-anchor="end" fill="#333" textLength="4.1" lengthAdjust="spacingAndGlyphs">50</text><line x1="396.7" y1="69.60" x2="512.8" y2="69.60" stroke="#bababa" stroke-width="1.5"/><text x="395.30" y="71.55" font-size="4.6" font-weight="bold" text-anchor="end" fill="#333" textLength="6.1" lengthAdjust="spacingAndGlyphs">100</text><line x1="396.7" y1="59.40" x2="512.8" y2="59.40" stroke="#bababa" stroke-width="1.5"/><text x="395.30" y="61.35" font-size="4.6" font-weight="bold" text-anchor="end" fill="#333" textLength="6.1" lengthAdjust="spacingAndGlyphs">150</text><line x1="396.7" y1="49.20" x2="512.8" y2="49.20" stroke="#bababa" stroke-width="1.5"/><text x="395.30" y="51.15" font-size="4.6" font-weight="bold" text-anchor="end" fill="#333" textLength="6.1" lengthAdjust="spacingAndGlyphs">200</text><line x1="396.7" y1="39.00" x2="512.8" y2="39.00" stroke="#bababa" stroke-width="1.5"/><text x="395.30" y="40.95" font-size="4.6" font-weight="bold" text-anchor="end" fill="#333" textLength="6.1" lengthAdjust="spacingAndGlyphs">250</text><line x1="396.7" y1="28.80" x2="512.8" y2="28.80" stroke="#bababa" stroke-width="1.5"/><text x="395.30" y="30.75" font-size="4.6" font-weight="bold" text-anchor="end" fill="#333" textLength="6.1" lengthAdjust="spacingAndGlyphs">300</text><line x1="398.5" y1="28.8" x2="398.5" y2="91.5" stroke="#8c8c8c" stroke-width="1"/><text x="398.50" y="98.90" font-size="4.6" font-weight="bold" text-anchor="middle" fill="#333" textLength="1.9" lengthAdjust="spacingAndGlyphs">0</text><line x1="421.36" y1="90.0" x2="421.36" y2="91.5" stroke="#8a8a8a" stroke-width="0.8"/><text x="421.36" y="98.90" font-size="4.6" font-weight="bold" text-anchor="middle" fill="#333" textLength="4.6" lengthAdjust="spacingAndGlyphs">0.1</text><line x1="444.22" y1="90.0" x2="444.22" y2="91.5" stroke="#8a8a8a" stroke-width="0.8"/><text x="444.22" y="98.90" font-size="4.6" font-weight="bold" text-anchor="middle" fill="#333" textLength="4.6" lengthAdjust="spacingAndGlyphs">0.2</text><line x1="467.08" y1="90.0" x2="467.08" y2="91.5" stroke="#8a8a8a" stroke-width="0.8"/><text x="467.08" y="98.90" font-size="4.6" font-weight="bold" text-anchor="middle" fill="#333" textLength="4.6" lengthAdjust="spacingAndGlyphs">0.3</text><line x1="489.94" y1="90.0" x2="489.94" y2="91.5" stroke="#8a8a8a" stroke-width="0.8"/><text x="489.94" y="98.90" font-size="4.6" font-weight="bold" text-anchor="middle" fill="#333" textLength="4.6" lengthAdjust="spacingAndGlyphs">0.4</text><line x1="512.80" y1="90.0" x2="512.80" y2="91.5" stroke="#8a8a8a" stroke-width="0.8"/><text x="512.80" y="98.90" font-size="4.6" font-weight="bold" text-anchor="middle" fill="#333" textLength="4.6" lengthAdjust="spacingAndGlyphs">0.5</text><text x="452.4" y="21.50" font-size="7.9" font-weight="bold" text-anchor="middle" fill="#000" textLength="23.9" lengthAdjust="spacingAndGlyphs">CDKN2B</text><circle cx="411.0" cy="34.0" r="1.45" fill="#111"/><circle cx="410.5" cy="52.3" r="1.45" fill="#111"/><circle cx="407.7" cy="60.5" r="1.45" fill="#111"/><circle cx="411.8" cy="61.3" r="1.45" fill="#111"/><circle cx="412.3" cy="60.3" r="1.45" fill="#111"/><circle cx="412.3" cy="69.8" r="1.45" fill="#111"/><circle cx="485.0" cy="64.9" r="1.45" fill="#111"/><circle cx="489.1" cy="59.5" r="1.45" fill="#111"/><circle cx="489.6" cy="69.8" r="1.45" fill="#111"/><rect x="239" y="109.6" width="134.60000000000002" height="93.5" rx="1.2" fill="#fff" stroke="#dadada" stroke-width="1.6"/><line x1="251.6" y1="189.00" x2="368.2" y2="189.00" stroke="#bababa" stroke-width="1.5"/><text x="250.20" y="190.95" font-size="4.6" font-weight="bold" text-anchor="end" fill="#333" textLength="2.0" lengthAdjust="spacingAndGlyphs">0</text><line x1="251.6" y1="182.88" x2="368.2" y2="182.88" stroke="#bababa" stroke-width="1.5"/><text x="250.20" y="184.83" font-size="4.6" font-weight="bold" text-anchor="end" fill="#333" textLength="4.1" lengthAdjust="spacingAndGlyphs">50</text><line x1="251.6" y1="176.76" x2="368.2" y2="176.76" stroke="#bababa" stroke-width="1.5"/><text x="250.20" y="178.71" font-size="4.6" font-weight="bold" text-anchor="end" fill="#333" textLength="6.1" lengthAdjust="spacingAndGlyphs">100</text><line x1="251.6" y1="170.64" x2="368.2" y2="170.64" stroke="#bababa" stroke-width="1.5"/><text x="250.20" y="172.59" font-size="4.6" font-weight="bold" text-anchor="end" fill="#333" textLength="6.1" lengthAdjust="spacingAndGlyphs">150</text><line x1="251.6" y1="164.52" x2="368.2" y2="164.52" stroke="#bababa" stroke-width="1.5"/><text x="250.20" y="166.47" font-size="4.6" font-weight="bold" text-anchor="end" fill="#333" textLength="6.1" lengthAdjust="spacingAndGlyphs">200</text><line x1="251.6" y1="158.40" x2="368.2" y2="158.40" stroke="#bababa" stroke-width="1.5"/><text x="250.20" y="160.35" font-size="4.6" font-weight="bold" text-anchor="end" fill="#333" textLength="6.1" lengthAdjust="spacingAndGlyphs">250</text><line x1="251.6" y1="152.28" x2="368.2" y2="152.28" stroke="#bababa" stroke-width="1.5"/><text x="250.20" y="154.23" font-size="4.6" font-weight="bold" text-anchor="end" fill="#333" textLength="6.1" lengthAdjust="spacingAndGlyphs">300</text><line x1="251.6" y1="146.16" x2="368.2" y2="146.16" stroke="#bababa" stroke-width="1.5"/><text x="250.20" y="148.11" font-size="4.6" font-weight="bold" text-anchor="end" fill="#333" textLength="6.1" lengthAdjust="spacingAndGlyphs">350</text><line x1="251.6" y1="140.04" x2="368.2" y2="140.04" stroke="#bababa" stroke-width="1.5"/><text x="250.20" y="141.99" font-size="4.6" font-weight="bold" text-anchor="end" fill="#333" textLength="6.1" lengthAdjust="spacingAndGlyphs">400</text><line x1="251.6" y1="133.92" x2="368.2" y2="133.92" stroke="#bababa" stroke-width="1.5"/><text x="250.20" y="135.87" font-size="4.6" font-weight="bold" text-anchor="end" fill="#333" textLength="6.1" lengthAdjust="spacingAndGlyphs">450</text><line x1="251.6" y1="127.80" x2="368.2" y2="127.80" stroke="#bababa" stroke-width="1.5"/><text x="250.20" y="129.75" font-size="4.6" font-weight="bold" text-anchor="end" fill="#333" textLength="6.1" lengthAdjust="spacingAndGlyphs">500</text><line x1="253.4" y1="127.8" x2="253.4" y2="190.5" stroke="#8c8c8c" stroke-width="1"/><text x="253.40" y="197.90" font-size="4.6" font-weight="bold" text-anchor="middle" fill="#333" textLength="1.9" lengthAdjust="spacingAndGlyphs">0</text><line x1="276.36" y1="189.0" x2="276.36" y2="190.5" stroke="#8a8a8a" stroke-width="0.8"/><text x="276.36" y="197.90" font-size="4.6" font-weight="bold" text-anchor="middle" fill="#333" textLength="4.6" lengthAdjust="spacingAndGlyphs">0.2</text><line x1="299.32" y1="189.0" x2="299.32" y2="190.5" stroke="#8a8a8a" stroke-width="0.8"/><text x="299.32" y="197.90" font-size="4.6" font-weight="bold" text-anchor="middle" fill="#333" textLength="4.6" lengthAdjust="spacingAndGlyphs">0.4</text><line x1="322.28" y1="189.0" x2="322.28" y2="190.5" stroke="#8a8a8a" stroke-width="0.8"/><text x="322.28" y="197.90" font-size="4.6" font-weight="bold" text-anchor="middle" fill="#333" textLength="4.6" lengthAdjust="spacingAndGlyphs">0.6</text><line x1="345.24" y1="189.0" x2="345.24" y2="190.5" stroke="#8a8a8a" stroke-width="0.8"/><text x="345.24" y="197.90" font-size="4.6" font-weight="bold" text-anchor="middle" fill="#333" textLength="4.6" lengthAdjust="spacingAndGlyphs">0.8</text><line x1="368.20" y1="189.0" x2="368.20" y2="190.5" stroke="#8a8a8a" stroke-width="0.8"/><text x="368.20" y="197.90" font-size="4.6" font-weight="bold" text-anchor="middle" fill="#333" textLength="1.9" lengthAdjust="spacingAndGlyphs">1</text><text x="306.05" y="120.20" font-size="7.9" font-weight="bold" text-anchor="middle" fill="#000" textLength="20.8" lengthAdjust="spacingAndGlyphs">MGMT</text><circle cx="265.0" cy="133.0" r="1.45" fill="#111"/><circle cx="260.6" cy="152.8" r="1.45" fill="#111"/><circle cx="259.6" cy="154.4" r="1.45" fill="#111"/><circle cx="262.7" cy="157.2" r="1.45" fill="#111"/><circle cx="264.2" cy="158.5" r="1.45" fill="#111"/><circle cx="265.3" cy="159.3" r="1.45" fill="#111"/><circle cx="273.0" cy="152.6" r="1.45" fill="#111"/><circle cx="342.6" cy="153.6" r="1.45" fill="#111"/><circle cx="356.2" cy="153.1" r="1.45" fill="#111"/><circle cx="359.8" cy="161.3" r="1.45" fill="#111"/><rect x="384.6" y="109.6" width="134.39999999999998" height="93.5" rx="1.2" fill="#fff" stroke="#dadada" stroke-width="1.6"/><line x1="398.5" y1="188.90" x2="513.4" y2="188.90" stroke="#bababa" stroke-width="1.5"/><text x="397.10" y="190.85" font-size="4.6" font-weight="bold" text-anchor="end" fill="#333" textLength="2.0" lengthAdjust="spacingAndGlyphs">0</text><line x1="398.5" y1="181.29" x2="513.4" y2="181.29" stroke="#bababa" stroke-width="1.5"/><text x="397.10" y="183.24" font-size="4.6" font-weight="bold" text-anchor="end" fill="#333" textLength="6.1" lengthAdjust="spacingAndGlyphs">500</text><line x1="398.5" y1="173.68" x2="513.4" y2="173.68" stroke="#bababa" stroke-width="1.5"/><text x="397.10" y="175.62" font-size="4.6" font-weight="bold" text-anchor="end" fill="#333" textLength="8.2" lengthAdjust="spacingAndGlyphs">1000</text><line x1="398.5" y1="166.06" x2="513.4" y2="166.06" stroke="#bababa" stroke-width="1.5"/><text x="397.10" y="168.01" font-size="4.6" font-weight="bold" text-anchor="end" fill="#333" textLength="8.2" lengthAdjust="spacingAndGlyphs">1500</text><line x1="398.5" y1="158.45" x2="513.4" y2="158.45" stroke="#bababa" stroke-width="1.5"/><text x="397.10" y="160.40" font-size="4.6" font-weight="bold" text-anchor="end" fill="#333" textLength="8.2" lengthAdjust="spacingAndGlyphs">2000</text><line x1="398.5" y1="150.84" x2="513.4" y2="150.84" stroke="#bababa" stroke-width="1.5"/><text x="397.10" y="152.79" font-size="4.6" font-weight="bold" text-anchor="end" fill="#333" textLength="8.2" lengthAdjust="spacingAndGlyphs">2500</text><line x1="398.5" y1="143.22" x2="513.4" y2="143.22" stroke="#bababa" stroke-width="1.5"/><text x="397.10" y="145.17" font-size="4.6" font-weight="bold" text-anchor="end" fill="#333" textLength="8.2" lengthAdjust="spacingAndGlyphs">3000</text><line x1="398.5" y1="135.61" x2="513.4" y2="135.61" stroke="#bababa" stroke-width="1.5"/><text x="397.10" y="137.56" font-size="4.6" font-weight="bold" text-anchor="end" fill="#333" textLength="8.2" lengthAdjust="spacingAndGlyphs">3500</text><line x1="398.5" y1="128.00" x2="513.4" y2="128.00" stroke="#bababa" stroke-width="1.5"/><text x="397.10" y="129.95" font-size="4.6" font-weight="bold" text-anchor="end" fill="#333" textLength="8.2" lengthAdjust="spacingAndGlyphs">4000</text><line x1="400.3" y1="128.0" x2="400.3" y2="190.4" stroke="#8c8c8c" stroke-width="1"/><text x="400.30" y="197.80" font-size="4.6" font-weight="bold" text-anchor="middle" fill="#333" textLength="1.9" lengthAdjust="spacingAndGlyphs">0</text><line x1="422.92" y1="188.9" x2="422.92" y2="190.4" stroke="#8a8a8a" stroke-width="0.8"/><text x="422.92" y="197.80" font-size="4.6" font-weight="bold" text-anchor="middle" fill="#333" textLength="4.6" lengthAdjust="spacingAndGlyphs">0.2</text><line x1="445.54" y1="188.9" x2="445.54" y2="190.4" stroke="#8a8a8a" stroke-width="0.8"/><text x="445.54" y="197.80" font-size="4.6" font-weight="bold" text-anchor="middle" fill="#333" textLength="4.6" lengthAdjust="spacingAndGlyphs">0.4</text><line x1="468.16" y1="188.9" x2="468.16" y2="190.4" stroke="#8a8a8a" stroke-width="0.8"/><text x="468.16" y="197.80" font-size="4.6" font-weight="bold" text-anchor="middle" fill="#333" textLength="4.6" lengthAdjust="spacingAndGlyphs">0.6</text><line x1="490.78" y1="188.9" x2="490.78" y2="190.4" stroke="#8a8a8a" stroke-width="0.8"/><text x="490.78" y="197.80" font-size="4.6" font-weight="bold" text-anchor="middle" fill="#333" textLength="4.6" lengthAdjust="spacingAndGlyphs">0.8</text><line x1="513.40" y1="188.9" x2="513.40" y2="190.4" stroke="#8a8a8a" stroke-width="0.8"/><text x="513.40" y="197.80" font-size="4.6" font-weight="bold" text-anchor="middle" fill="#333" textLength="1.9" lengthAdjust="spacingAndGlyphs">1</text><text x="452.3" y="120.40" font-size="7.9" font-weight="bold" text-anchor="middle" fill="#000" textLength="18.3" lengthAdjust="spacingAndGlyphs">CEBPA</text><circle cx="408.5" cy="148.2" r="1.45" fill="#111"/><circle cx="412.6" cy="151.0" r="1.45" fill="#111"/><circle cx="453.3" cy="134.3" r="1.45" fill="#111"/><circle cx="461.0" cy="167.2" r="1.45" fill="#111"/><circle cx="492.7" cy="170.1" r="1.45" fill="#111"/><circle cx="496.1" cy="171.4" r="1.45" fill="#111"/><circle cx="497.4" cy="162.1" r="1.45" fill="#111"/><circle cx="500.5" cy="168.5" r="1.45" fill="#111"/><circle cx="504.3" cy="172.7" r="1.45" fill="#111"/><circle cx="499.4" cy="184.0" r="1.45" fill="#111"/><rect x="239" y="208.4" width="134.60000000000002" height="93.20000000000002" rx="1.2" fill="#fff" stroke="#dadada" stroke-width="1.6"/><line x1="252.5" y1="287.80" x2="368.2" y2="287.80" stroke="#bababa" stroke-width="1.5"/><text x="251.10" y="289.75" font-size="4.6" font-weight="bold" text-anchor="end" fill="#333" textLength="2.0" lengthAdjust="spacingAndGlyphs">0</text><line x1="252.5" y1="280.18" x2="368.2" y2="280.18" stroke="#bababa" stroke-width="1.5"/><text x="251.10" y="282.12" font-size="4.6" font-weight="bold" text-anchor="end" fill="#333" textLength="6.1" lengthAdjust="spacingAndGlyphs">500</text><line x1="252.5" y1="272.55" x2="368.2" y2="272.55" stroke="#bababa" stroke-width="1.5"/><text x="251.10" y="274.50" font-size="4.6" font-weight="bold" text-anchor="end" fill="#333" textLength="8.2" lengthAdjust="spacingAndGlyphs">1000</text><line x1="252.5" y1="264.93" x2="368.2" y2="264.93" stroke="#bababa" stroke-width="1.5"/><text x="251.10" y="266.88" font-size="4.6" font-weight="bold" text-anchor="end" fill="#333" textLength="8.2" lengthAdjust="spacingAndGlyphs">1500</text><line x1="252.5" y1="257.30" x2="368.2" y2="257.30" stroke="#bababa" stroke-width="1.5"/><text x="251.10" y="259.25" font-size="4.6" font-weight="bold" text-anchor="end" fill="#333" textLength="8.2" lengthAdjust="spacingAndGlyphs">2000</text><line x1="252.5" y1="249.68" x2="368.2" y2="249.68" stroke="#bababa" stroke-width="1.5"/><text x="251.10" y="251.62" font-size="4.6" font-weight="bold" text-anchor="end" fill="#333" textLength="8.2" lengthAdjust="spacingAndGlyphs">2500</text><line x1="252.5" y1="242.05" x2="368.2" y2="242.05" stroke="#bababa" stroke-width="1.5"/><text x="251.10" y="244.00" font-size="4.6" font-weight="bold" text-anchor="end" fill="#333" textLength="8.2" lengthAdjust="spacingAndGlyphs">3000</text><line x1="252.5" y1="234.43" x2="368.2" y2="234.43" stroke="#bababa" stroke-width="1.5"/><text x="251.10" y="236.38" font-size="4.6" font-weight="bold" text-anchor="end" fill="#333" textLength="8.2" lengthAdjust="spacingAndGlyphs">3500</text><line x1="252.5" y1="226.80" x2="368.2" y2="226.80" stroke="#bababa" stroke-width="1.5"/><text x="251.10" y="228.75" font-size="4.6" font-weight="bold" text-anchor="end" fill="#333" textLength="8.2" lengthAdjust="spacingAndGlyphs">4000</text><line x1="254.3" y1="226.8" x2="254.3" y2="289.3" stroke="#8c8c8c" stroke-width="1"/><text x="254.30" y="296.70" font-size="4.6" font-weight="bold" text-anchor="middle" fill="#333" textLength="1.9" lengthAdjust="spacingAndGlyphs">0</text><line x1="277.08" y1="287.8" x2="277.08" y2="289.3" stroke="#8a8a8a" stroke-width="0.8"/><text x="277.08" y="296.70" font-size="4.6" font-weight="bold" text-anchor="middle" fill="#333" textLength="4.6" lengthAdjust="spacingAndGlyphs">0.2</text><line x1="299.86" y1="287.8" x2="299.86" y2="289.3" stroke="#8a8a8a" stroke-width="0.8"/><text x="299.86" y="296.70" font-size="4.6" font-weight="bold" text-anchor="middle" fill="#333" textLength="4.6" lengthAdjust="spacingAndGlyphs">0.4</text><line x1="322.64" y1="287.8" x2="322.64" y2="289.3" stroke="#8a8a8a" stroke-width="0.8"/><text x="322.64" y="296.70" font-size="4.6" font-weight="bold" text-anchor="middle" fill="#333" textLength="4.6" lengthAdjust="spacingAndGlyphs">0.6</text><line x1="345.42" y1="287.8" x2="345.42" y2="289.3" stroke="#8a8a8a" stroke-width="0.8"/><text x="345.42" y="296.70" font-size="4.6" font-weight="bold" text-anchor="middle" fill="#333" textLength="4.6" lengthAdjust="spacingAndGlyphs">0.8</text><line x1="368.20" y1="287.8" x2="368.20" y2="289.3" stroke="#8a8a8a" stroke-width="0.8"/><text x="368.20" y="296.70" font-size="4.6" font-weight="bold" text-anchor="middle" fill="#333" textLength="1.9" lengthAdjust="spacingAndGlyphs">1</text><text x="306.5" y="219.30" font-size="7.9" font-weight="bold" text-anchor="middle" fill="#000" textLength="21.2" lengthAdjust="spacingAndGlyphs">DNMT1</text><circle cx="260.6" cy="233.0" r="1.45" fill="#111"/><circle cx="264.0" cy="257.5" r="1.45" fill="#111"/><circle cx="281.0" cy="261.1" r="1.45" fill="#111"/><circle cx="290.8" cy="245.1" r="1.45" fill="#111"/><circle cx="314.2" cy="257.8" r="1.45" fill="#111"/><circle cx="319.4" cy="248.0" r="1.45" fill="#111"/><circle cx="321.7" cy="250.0" r="1.45" fill="#111"/><circle cx="327.1" cy="253.1" r="1.45" fill="#111"/><circle cx="332.0" cy="262.7" r="1.45" fill="#111"/><circle cx="351.6" cy="283.5" r="1.45" fill="#111"/><rect x="384.6" y="208.4" width="134.39999999999998" height="93.20000000000002" rx="1.2" fill="#fff" stroke="#dadada" stroke-width="1.6"/><line x1="398.59999999999997" y1="287.90" x2="511.4" y2="287.90" stroke="#bababa" stroke-width="1.5"/><text x="397.20" y="289.85" font-size="4.6" font-weight="bold" text-anchor="end" fill="#333" textLength="2.0" lengthAdjust="spacingAndGlyphs">0</text><line x1="398.59999999999997" y1="279.14" x2="511.4" y2="279.14" stroke="#bababa" stroke-width="1.5"/><text x="397.20" y="281.09" font-size="4.6" font-weight="bold" text-anchor="end" fill="#333" textLength="4.1" lengthAdjust="spacingAndGlyphs">50</text><line x1="398.59999999999997" y1="270.39" x2="511.4" y2="270.39" stroke="#bababa" stroke-width="1.5"/><text x="397.20" y="272.34" font-size="4.6" font-weight="bold" text-anchor="end" fill="#333" textLength="6.1" lengthAdjust="spacingAndGlyphs">100</text><line x1="398.59999999999997" y1="261.63" x2="511.4" y2="261.63" stroke="#bababa" stroke-width="1.5"/><text x="397.20" y="263.58" font-size="4.6" font-weight="bold" text-anchor="end" fill="#333" textLength="6.1" lengthAdjust="spacingAndGlyphs">150</text><line x1="398.59999999999997" y1="252.87" x2="511.4" y2="252.87" stroke="#bababa" stroke-width="1.5"/><text x="397.20" y="254.82" font-size="4.6" font-weight="bold" text-anchor="end" fill="#333" textLength="6.1" lengthAdjust="spacingAndGlyphs">200</text><line x1="398.59999999999997" y1="244.11" x2="511.4" y2="244.11" stroke="#bababa" stroke-width="1.5"/><text x="397.20" y="246.06" font-size="4.6" font-weight="bold" text-anchor="end" fill="#333" textLength="6.1" lengthAdjust="spacingAndGlyphs">250</text><line x1="398.59999999999997" y1="235.36" x2="511.4" y2="235.36" stroke="#bababa" stroke-width="1.5"/><text x="397.20" y="237.31" font-size="4.6" font-weight="bold" text-anchor="end" fill="#333" textLength="6.1" lengthAdjust="spacingAndGlyphs">300</text><line x1="398.59999999999997" y1="226.60" x2="511.4" y2="226.60" stroke="#bababa" stroke-width="1.5"/><text x="397.20" y="228.55" font-size="4.6" font-weight="bold" text-anchor="end" fill="#333" textLength="6.1" lengthAdjust="spacingAndGlyphs">350</text><line x1="400.4" y1="226.6" x2="400.4" y2="289.4" stroke="#8c8c8c" stroke-width="1"/><text x="400.40" y="296.80" font-size="4.6" font-weight="bold" text-anchor="middle" fill="#333" textLength="1.9" lengthAdjust="spacingAndGlyphs">0</text><line x1="428.15" y1="287.9" x2="428.15" y2="289.4" stroke="#8a8a8a" stroke-width="0.8"/><text x="428.15" y="296.80" font-size="4.6" font-weight="bold" text-anchor="middle" fill="#333" textLength="4.6" lengthAdjust="spacingAndGlyphs">0.1</text><line x1="455.90" y1="287.9" x2="455.90" y2="289.4" stroke="#8a8a8a" stroke-width="0.8"/><text x="455.90" y="296.80" font-size="4.6" font-weight="bold" text-anchor="middle" fill="#333" textLength="4.6" lengthAdjust="spacingAndGlyphs">0.2</text><line x1="483.65" y1="287.9" x2="483.65" y2="289.4" stroke="#8a8a8a" stroke-width="0.8"/><text x="483.65" y="296.80" font-size="4.6" font-weight="bold" text-anchor="middle" fill="#333" textLength="4.6" lengthAdjust="spacingAndGlyphs">0.3</text><line x1="511.40" y1="287.9" x2="511.40" y2="289.4" stroke="#8a8a8a" stroke-width="0.8"/><text x="511.40" y="296.80" font-size="4.6" font-weight="bold" text-anchor="middle" fill="#333" textLength="4.6" lengthAdjust="spacingAndGlyphs">0.4</text><text x="452.0" y="219.40" font-size="7.9" font-weight="bold" text-anchor="middle" fill="#000" textLength="22.3" lengthAdjust="spacingAndGlyphs">HOXC4</text><circle cx="417.2" cy="236.9" r="1.45" fill="#111"/><circle cx="415.9" cy="256.7" r="1.45" fill="#111"/><circle cx="413.4" cy="262.4" r="1.45" fill="#111"/><circle cx="417.0" cy="264.0" r="1.45" fill="#111"/><circle cx="418.0" cy="264.2" r="1.45" fill="#111"/><circle cx="416.4" cy="267.8" r="1.45" fill="#111"/><circle cx="417.7" cy="268.6" r="1.45" fill="#111"/><circle cx="495.8" cy="270.1" r="1.45" fill="#111"/><circle cx="502.0" cy="260.6" r="1.45" fill="#111"/><rect x="239" y="307.4" width="134.60000000000002" height="93.70000000000005" rx="1.2" fill="#fff" stroke="#dadada" stroke-width="1.6"/><line x1="252.5" y1="386.70" x2="367.2" y2="386.70" stroke="#bababa" stroke-width="1.5"/><text x="251.10" y="388.65" font-size="4.6" font-weight="bold" text-anchor="end" fill="#333" textLength="2.0" lengthAdjust="spacingAndGlyphs">0</text><line x1="252.5" y1="380.61" x2="367.2" y2="380.61" stroke="#bababa" stroke-width="1.5"/><text x="251.10" y="382.56" font-size="4.6" font-weight="bold" text-anchor="end" fill="#333" textLength="6.1" lengthAdjust="spacingAndGlyphs">200</text><line x1="252.5" y1="374.52" x2="367.2" y2="374.52" stroke="#bababa" stroke-width="1.5"/><text x="251.10" y="376.47" font-size="4.6" font-weight="bold" text-anchor="end" fill="#333" textLength="6.1" lengthAdjust="spacingAndGlyphs">400</text><line x1="252.5" y1="368.43" x2="367.2" y2="368.43" stroke="#bababa" stroke-width="1.5"/><text x="251.10" y="370.38" font-size="4.6" font-weight="bold" text-anchor="end" fill="#333" textLength="6.1" lengthAdjust="spacingAndGlyphs">600</text><line x1="252.5" y1="362.34" x2="367.2" y2="362.34" stroke="#bababa" stroke-width="1.5"/><text x="251.10" y="364.29" font-size="4.6" font-weight="bold" text-anchor="end" fill="#333" textLength="6.1" lengthAdjust="spacingAndGlyphs">800</text><line x1="252.5" y1="356.25" x2="367.2" y2="356.25" stroke="#bababa" stroke-width="1.5"/><text x="251.10" y="358.20" font-size="4.6" font-weight="bold" text-anchor="end" fill="#333" textLength="8.2" lengthAdjust="spacingAndGlyphs">1000</text><line x1="252.5" y1="350.16" x2="367.2" y2="350.16" stroke="#bababa" stroke-width="1.5"/><text x="251.10" y="352.11" font-size="4.6" font-weight="bold" text-anchor="end" fill="#333" textLength="8.2" lengthAdjust="spacingAndGlyphs">1200</text><line x1="252.5" y1="344.07" x2="367.2" y2="344.07" stroke="#bababa" stroke-width="1.5"/><text x="251.10" y="346.02" font-size="4.6" font-weight="bold" text-anchor="end" fill="#333" textLength="8.2" lengthAdjust="spacingAndGlyphs">1400</text><line x1="252.5" y1="337.98" x2="367.2" y2="337.98" stroke="#bababa" stroke-width="1.5"/><text x="251.10" y="339.93" font-size="4.6" font-weight="bold" text-anchor="end" fill="#333" textLength="8.2" lengthAdjust="spacingAndGlyphs">1600</text><line x1="252.5" y1="331.89" x2="367.2" y2="331.89" stroke="#bababa" stroke-width="1.5"/><text x="251.10" y="333.84" font-size="4.6" font-weight="bold" text-anchor="end" fill="#333" textLength="8.2" lengthAdjust="spacingAndGlyphs">1800</text><line x1="252.5" y1="325.80" x2="367.2" y2="325.80" stroke="#bababa" stroke-width="1.5"/><text x="251.10" y="327.75" font-size="4.6" font-weight="bold" text-anchor="end" fill="#333" textLength="8.2" lengthAdjust="spacingAndGlyphs">2000</text><line x1="254.3" y1="325.8" x2="254.3" y2="388.2" stroke="#8c8c8c" stroke-width="1"/><text x="254.30" y="395.60" font-size="4.6" font-weight="bold" text-anchor="middle" fill="#333" textLength="1.9" lengthAdjust="spacingAndGlyphs">0</text><line x1="276.88" y1="386.7" x2="276.88" y2="388.2" stroke="#8a8a8a" stroke-width="0.8"/><text x="276.88" y="395.60" font-size="4.6" font-weight="bold" text-anchor="middle" fill="#333" textLength="4.6" lengthAdjust="spacingAndGlyphs">0.1</text><line x1="299.46" y1="386.7" x2="299.46" y2="388.2" stroke="#8a8a8a" stroke-width="0.8"/><text x="299.46" y="395.60" font-size="4.6" font-weight="bold" text-anchor="middle" fill="#333" textLength="4.6" lengthAdjust="spacingAndGlyphs">0.2</text><line x1="322.04" y1="386.7" x2="322.04" y2="388.2" stroke="#8a8a8a" stroke-width="0.8"/><text x="322.04" y="395.60" font-size="4.6" font-weight="bold" text-anchor="middle" fill="#333" textLength="4.6" lengthAdjust="spacingAndGlyphs">0.3</text><line x1="344.62" y1="386.7" x2="344.62" y2="388.2" stroke="#8a8a8a" stroke-width="0.8"/><text x="344.62" y="395.60" font-size="4.6" font-weight="bold" text-anchor="middle" fill="#333" textLength="4.6" lengthAdjust="spacingAndGlyphs">0.4</text><line x1="367.20" y1="386.7" x2="367.20" y2="388.2" stroke="#8a8a8a" stroke-width="0.8"/><text x="367.20" y="395.60" font-size="4.6" font-weight="bold" text-anchor="middle" fill="#333" textLength="4.6" lengthAdjust="spacingAndGlyphs">0.5</text><text x="306.5" y="318.50" font-size="7.9" font-weight="bold" text-anchor="middle" fill="#000" textLength="9.9" lengthAdjust="spacingAndGlyphs">ID2</text><circle cx="273.5" cy="331.0" r="1.45" fill="#111"/><circle cx="268.4" cy="350.8" r="1.45" fill="#111"/><circle cx="267.6" cy="364.8" r="1.45" fill="#111"/><circle cx="268.4" cy="374.6" r="1.45" fill="#111"/><circle cx="268.4" cy="375.6" r="1.45" fill="#111"/><circle cx="276.6" cy="376.9" r="1.45" fill="#111"/><circle cx="284.1" cy="377.9" r="1.45" fill="#111"/><circle cx="299.8" cy="375.3" r="1.45" fill="#111"/><circle cx="334.6" cy="377.1" r="1.45" fill="#111"/><circle cx="350.6" cy="372.8" r="1.45" fill="#111"/><rect x="384.6" y="307.4" width="134.39999999999998" height="93.70000000000005" rx="1.2" fill="#fff" stroke="#dadada" stroke-width="1.6"/><line x1="396.59999999999997" y1="386.80" x2="513.2" y2="386.80" stroke="#bababa" stroke-width="1.5"/><text x="395.20" y="388.75" font-size="4.6" font-weight="bold" text-anchor="end" fill="#333" textLength="2.0" lengthAdjust="spacingAndGlyphs">0</text><line x1="396.59999999999997" y1="376.60" x2="513.2" y2="376.60" stroke="#bababa" stroke-width="1.5"/><text x="395.20" y="378.55" font-size="4.6" font-weight="bold" text-anchor="end" fill="#333" textLength="6.1" lengthAdjust="spacingAndGlyphs">100</text><line x1="396.59999999999997" y1="366.40" x2="513.2" y2="366.40" stroke="#bababa" stroke-width="1.5"/><text x="395.20" y="368.35" font-size="4.6" font-weight="bold" text-anchor="end" fill="#333" textLength="6.1" lengthAdjust="spacingAndGlyphs">200</text><line x1="396.59999999999997" y1="356.20" x2="513.2" y2="356.20" stroke="#bababa" stroke-width="1.5"/><text x="395.20" y="358.15" font-size="4.6" font-weight="bold" text-anchor="end" fill="#333" textLength="6.1" lengthAdjust="spacingAndGlyphs">300</text><line x1="396.59999999999997" y1="346.00" x2="513.2" y2="346.00" stroke="#bababa" stroke-width="1.5"/><text x="395.20" y="347.95" font-size="4.6" font-weight="bold" text-anchor="end" fill="#333" textLength="6.1" lengthAdjust="spacingAndGlyphs">400</text><line x1="396.59999999999997" y1="335.80" x2="513.2" y2="335.80" stroke="#bababa" stroke-width="1.5"/><text x="395.20" y="337.75" font-size="4.6" font-weight="bold" text-anchor="end" fill="#333" textLength="6.1" lengthAdjust="spacingAndGlyphs">500</text><line x1="396.59999999999997" y1="325.60" x2="513.2" y2="325.60" stroke="#bababa" stroke-width="1.5"/><text x="395.20" y="327.55" font-size="4.6" font-weight="bold" text-anchor="end" fill="#333" textLength="6.1" lengthAdjust="spacingAndGlyphs">600</text><line x1="398.4" y1="325.6" x2="398.4" y2="388.3" stroke="#8c8c8c" stroke-width="1"/><text x="398.40" y="395.70" font-size="4.6" font-weight="bold" text-anchor="middle" fill="#333" textLength="1.9" lengthAdjust="spacingAndGlyphs">0</text><line x1="421.36" y1="386.8" x2="421.36" y2="388.3" stroke="#8a8a8a" stroke-width="0.8"/><text x="421.36" y="395.70" font-size="4.6" font-weight="bold" text-anchor="middle" fill="#333" textLength="4.6" lengthAdjust="spacingAndGlyphs">0.2</text><line x1="444.32" y1="386.8" x2="444.32" y2="388.3" stroke="#8a8a8a" stroke-width="0.8"/><text x="444.32" y="395.70" font-size="4.6" font-weight="bold" text-anchor="middle" fill="#333" textLength="4.6" lengthAdjust="spacingAndGlyphs">0.4</text><line x1="467.28" y1="386.8" x2="467.28" y2="388.3" stroke="#8a8a8a" stroke-width="0.8"/><text x="467.28" y="395.70" font-size="4.6" font-weight="bold" text-anchor="middle" fill="#333" textLength="4.6" lengthAdjust="spacingAndGlyphs">0.6</text><line x1="490.24" y1="386.8" x2="490.24" y2="388.3" stroke="#8a8a8a" stroke-width="0.8"/><text x="490.24" y="395.70" font-size="4.6" font-weight="bold" text-anchor="middle" fill="#333" textLength="4.6" lengthAdjust="spacingAndGlyphs">0.8</text><line x1="513.20" y1="386.8" x2="513.20" y2="388.3" stroke="#8a8a8a" stroke-width="0.8"/><text x="513.20" y="395.70" font-size="4.6" font-weight="bold" text-anchor="middle" fill="#333" textLength="1.9" lengthAdjust="spacingAndGlyphs">1</text><text x="452.7" y="318.50" font-size="7.9" font-weight="bold" text-anchor="middle" fill="#000" textLength="20.2" lengthAdjust="spacingAndGlyphs">IGFBP2</text><circle cx="406.1" cy="329.2" r="1.45" fill="#111"/><circle cx="412.6" cy="361.2" r="1.45" fill="#111"/><circle cx="420.3" cy="366.8" r="1.45" fill="#111"/><circle cx="434.0" cy="344.9" r="1.45" fill="#111"/><circle cx="432.7" cy="369.1" r="1.45" fill="#111"/><circle cx="456.1" cy="371.0" r="1.45" fill="#111"/><circle cx="455.4" cy="374.0" r="1.45" fill="#111"/><circle cx="458.2" cy="361.4" r="1.45" fill="#111"/><circle cx="460.3" cy="358.8" r="1.45" fill="#111"/><circle cx="501.8" cy="367.9" r="1.45" fill="#111"/>
</svg>
</body></html>
